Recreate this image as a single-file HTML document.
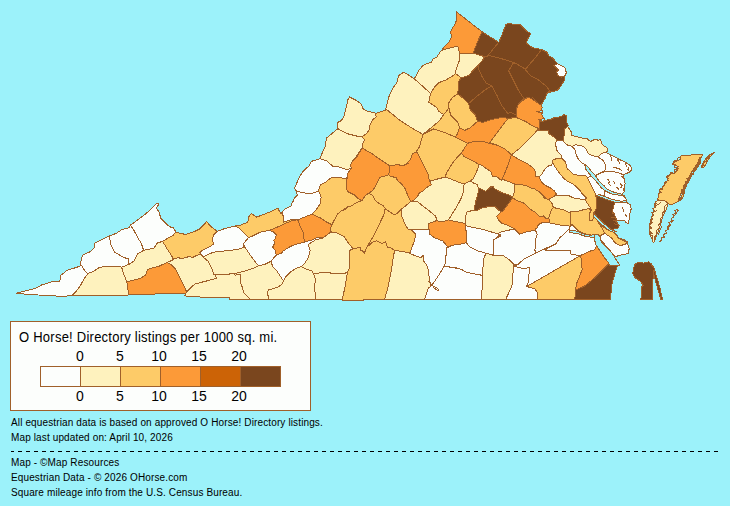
<!DOCTYPE html>
<html><head><meta charset="utf-8">
<style>
html,body{margin:0;padding:0;}
body{width:730px;height:506px;background:#9CF2FA;position:relative;overflow:hidden;font-family:"Liberation Sans",Arial,sans-serif;color:#000;}
#map{position:absolute;left:0;top:0;}
.lg{position:absolute;left:10px;top:321px;width:299px;height:88px;border:1px solid #A0602A;background:#FCFEFC;}
.t{position:absolute;white-space:nowrap;}
.title{left:8px;top:7px;font-size:14px;letter-spacing:0.25px;transform:scaleX(0.93);transform-origin:0 0;}
.num{position:absolute;font-size:14px;width:40px;text-align:center;}
.bar{position:absolute;left:29px;top:44px;height:21px;}
.seg{position:absolute;top:0;width:39px;height:19px;border:1px solid #A0602A;}
.foot{position:absolute;left:11px;font-size:10px;letter-spacing:0.13px;white-space:nowrap;}
.dash{position:absolute;left:18px;top:451px;width:700px;height:1px;background:repeating-linear-gradient(to right,#000 0 4px,transparent 4px 8px);}
.dash0{position:absolute;left:11px;top:451px;width:3px;height:1px;background:#000;}
</style></head><body>
<svg id="map" width="730" height="310" viewBox="0 0 730 310" shape-rendering="crispEdges"><g fill-rule="evenodd"><path fill="#FC9A38" d="M457.0,17.5 455.7,22.8 452.5,28.2 450.7,31.7 451.6,37.0 448.9,42.4 443.6,47.7 441.8,50.4 450.7,47.7 457.8,46.3 458.7,49.5 459.6,54.0 473.0,53.1 477.4,42.4 481.9,31.7 456.4,11.8Z"/><path fill="#7A461E" d="M477.4,42.4 473.0,53.1 484.5,56.6 487.2,56.6 488.1,55.2 488.3,55.2 493.4,48.6 498.8,42.4 481.9,31.7Z"/><path fill="#7A461E" d="M514.8,62.9 525.5,69.1 536.2,56.6 541.5,49.5 532.6,47.7 526.4,43.3 527.3,39.7 530.8,33.5 527.3,31.7 520.1,24.6 507.7,23.7 505.9,24.6 501.4,36.2 498.8,42.4 493.4,48.6 488.3,55.2 500.6,58.4Z"/><path fill="#7A461E" d="M536.2,56.6 525.5,69.1 525.5,69.8 530.8,76.0 538.0,79.6 546.9,86.7 550.4,92.1 557.5,90.3 561.1,85.8 564.7,79.6 564.7,76.2 561.1,77.1 557.5,75.3 556.7,71.8 558.4,70.0 554.0,65.6 557.5,63.8 553.1,58.4 548.6,55.8 546.9,52.2 541.5,49.5Z"/><path fill="#FCFEFC" d="M558.4,70.0 556.7,71.8 557.5,75.3 561.1,77.1 564.7,76.2 566.4,72.7 564.7,67.3 557.5,63.8 554.0,65.6Z"/><path fill="#FEF2BE" d="M459.6,60.0 456.9,67.1 455.1,73.4 457.8,75.1 461.4,77.8 469.4,75.1 471.2,72.5 478.3,65.3 482.7,60.0 484.5,56.6 473.0,53.1 459.6,54.0Z"/><path fill="#FEF2BE" d="M436.9,56.9 433.3,58.7 431.5,62.3 426.2,64.0 422.6,65.8 418.2,71.2 415.5,77.4 413.7,78.3 430.6,93.4 435.1,86.3 438.6,82.7 445.8,80.1 454.7,74.7 455.1,73.4 456.9,67.1 459.6,60.0 459.6,54.0 458.7,49.5 457.8,46.3 450.7,47.7 441.8,50.4 440.4,51.6Z"/><path fill="#FDCB68" d="M436.9,107.7 438.6,111.2 443.7,114.6 446.1,111.7 447.0,110.5 448.9,108.1 448.9,102.7 452.5,97.4 457.8,93.8 458.7,81.4 461.4,77.8 457.8,75.1 455.1,73.4 454.7,74.7 445.8,80.1 438.6,82.7 435.1,86.3 430.6,93.4 428.8,102.3Z"/><path fill="#FEF2BE" d="M396.8,82.7 392.3,89.0 388.8,97.0 385.6,109.6 386.2,110.0 386.9,109.8 399.9,120.3 412.3,128.3 423.0,134.5 423.1,134.4 423.2,134.2 428.4,130.0 433.7,125.6 439.0,121.2 443.5,114.9 443.7,114.6 438.6,111.2 436.9,107.7 428.8,102.3 430.6,93.4 413.7,78.3 403.9,72.1 398.6,75.6Z"/><path fill="#FEF2BE" d="M347.7,100.0 346.8,105.3 344.1,116.0 341.4,120.5 337.9,122.3 337.0,126.7 338.8,129.4 347.7,133.8 358.4,136.5 361.9,136.5 366.4,133.8 369.0,130.3 369.9,124.9 372.6,119.6 376.2,116.9 375.4,113.0 367.4,111.2 362.9,108.6 361.2,104.1 356.7,100.6 349.6,97.0Z"/><path fill="#FEF2BE" d="M338.2,128.4 337.0,129.4 331.6,133.8 326.3,138.3 325.4,146.3 322.7,151.6 320.1,158.8 326.3,160.6 333.4,166.8 338.8,166.8 345.9,169.5 351.2,168.7 351.4,168.5 350.5,164.9 352.3,161.4 354.7,158.9 354.8,158.8 358.4,153.4 361.9,148.1 362.8,143.6 364.6,140.1 361.9,136.5 358.4,136.5 347.7,133.8 338.8,129.4Z"/><path fill="#FCFEFC" d="M309.4,165.9 306.7,167.7 303.2,171.2 299.6,176.6 296.9,182.8 294.5,188.2 296.3,190.8 301.6,192.6 311.4,193.8 318.6,190.8 320.3,184.6 324.8,182.8 331.9,177.1 332.0,177.1 332.0,177.1 339.0,177.5 347.0,178.9 347.5,175.6 346.8,178.4 347.5,175.6 347.8,173.8 349.6,170.3 351.2,168.7 345.9,169.5 338.8,166.8 333.4,166.8 326.3,160.6 320.1,158.8 311.2,161.4Z"/><path fill="#FCFEFC" d="M297.2,195.3 294.5,197.9 293.6,200.6 291.8,203.3 291.0,206.0 285.6,208.6 282.1,212.2 283.8,218.4 283.8,222.0 292.7,219.3 297.3,219.7 297.5,219.7 297.5,219.7 298.1,219.8 303.4,217.5 312.3,214.0 315.9,210.4 320.3,203.3 321.2,197.1 318.6,190.8 311.4,193.8 301.6,192.6 296.3,190.8Z"/><path fill="#FDCB68" d="M269.0,230.4 276.2,227.7 283.3,224.2 292.2,220.6 297.3,219.7 292.7,219.3 283.8,222.0 283.8,218.4 282.1,212.2 280.7,213.7 280.6,213.5 277.9,208.2 270.8,211.7 263.7,214.4 256.6,217.1 251.2,213.5 248.6,217.1 247.7,222.4 240.5,225.1 235.2,226.0 238.8,227.7 245.9,234.9 248.6,237.5 253.0,235.8 260.1,232.2Z"/><path fill="#FC9A38" d="M297.5,219.7 298.1,220.6 297.5,219.7 292.2,220.6 283.3,224.2 276.2,227.7 269.0,230.4 272.6,231.3 276.2,234.9 275.3,238.4 273.9,240.2 274.5,243.5 272.7,247.1 275.4,250.6 276.3,255.1 280.8,253.4 283.3,250.9 290.4,246.4 297.5,243.8 304.7,242.0 304.7,241.5 304.3,241.6 303.4,232.7 299.9,225.5 298.6,221.3 298.6,221.3 298.1,219.8Z"/><path fill="#FC9A38" d="M299.9,225.5 303.4,232.7 304.3,241.6 310.5,240.7 315.9,238.0 321.2,237.1 323.3,237.6 329.7,232.8 331.8,232.8 331.9,232.7 330.0,229.9 331.8,225.5 331.9,225.4 331.9,224.7 326.6,222.0 321.2,218.4 312.3,214.0 303.4,217.5 298.1,219.8Z"/><path fill="#FDCB68" d="M346.6,181.9 346.2,184.6 346.3,185.2ZM320.3,203.3 315.9,210.4 312.3,214.0 321.2,218.4 326.6,222.0 331.9,224.7 333.7,221.1 335.5,218.4 337.3,214.0 339.3,213.0 340.7,211.2 343.3,210.1 346.2,207.7 347.5,207.4 347.8,206.8 351.4,205.9 356.7,202.3 359.8,201.3 361.5,200.2 358.5,198.8 354.9,195.2 347.8,191.6 346.0,188.1 346.3,185.2 346.2,184.6 346.6,181.9 346.9,179.2 347.0,178.9 339.0,177.5 331.9,177.1 324.8,182.8 320.3,184.6 318.6,190.8 321.2,197.1Z"/><path fill="#7A461E" d="M471.2,72.5 469.4,75.1 461.4,77.8 458.7,81.4 457.8,93.8 463.2,98.3 468.5,103.6 475.6,97.4 484.5,90.3 491.6,85.8 486.3,83.2 482.7,77.8 478.3,68.9 478.3,65.3Z"/><path fill="#7A461E" d="M478.3,65.3 478.3,68.9 482.7,77.8 486.3,83.2 491.6,85.8 497.0,95.6 502.3,106.3 507.7,113.4 511.2,112.5 516.1,115.0 516.6,110.7 517.1,107.1 516.6,108.1 517.1,107.1 517.2,106.3 519.3,103.0 520.3,102.3 523.7,98.3 518.4,90.3 513.0,79.6 508.6,70.7 513.0,63.6 514.8,62.9 500.6,58.4 488.1,55.2 487.2,56.6 484.5,56.6 482.7,60.0Z"/><path fill="#7A461E" d="M475.6,97.4 468.5,103.6 470.3,109.9 475.6,115.2 477.4,121.4 482.7,122.3 488.1,120.6 495.2,118.8 503.2,117.0 507.7,118.8 509.1,118.5 516.6,117.0 516.6,116.5 516.1,115.0 516.1,115.0 511.2,112.5 507.7,113.4 502.3,106.3 497.0,95.6 491.6,85.8 484.5,90.3Z"/><path fill="#7A461E" d="M514.8,62.9 513.0,63.6 508.6,70.7 513.0,79.6 518.4,90.3 523.7,98.3 526.5,98.0 528.0,97.1 529.3,97.7 531.3,98.7 534.6,100.9 537.2,102.6 532.6,97.4 537.2,102.6 537.8,103.0 540.7,104.9 541.1,105.2 541.1,105.2 541.5,104.5 545.1,98.3 546.9,93.8 548.6,91.2 547.5,92.8 550.4,92.1 546.9,86.7 538.0,79.6 530.8,76.0 525.5,69.8 525.5,69.1Z"/><path fill="#FC9A38" d="M523.7,99.8 526.5,98.0 523.7,98.3 520.3,102.3ZM541.1,105.2 537.8,103.0 534.6,100.9 531.3,98.7 528.0,97.1 523.7,99.8 519.3,103.0 517.2,106.3 516.6,110.7 516.1,115.0 516.8,117.2 519.2,118.8 525.5,121.4 532.6,125.9 538.8,128.6 538.4,129.0 538.9,129.1 539.5,127.0 539.6,126.7 539.5,124.8 540.0,121.5 542.0,121.1 545.4,120.4 545.1,120.5 543.8,118.5 542.2,116.1 541.6,113.0 541.4,111.9 541.6,110.7 542.2,107.4ZM516.6,117.0 516.8,117.2 516.6,116.5Z"/><path fill="#7A461E" d="M548.8,130.0 548.8,133.6 554.1,137.1 555.0,138.0 557.0,140.0 563.3,140.0 563.3,138.2 564.4,134.9 564.4,131.6 564.4,131.1 564.4,128.3 565.8,128.3 566.1,127.5 568.3,125.9 567.2,123.7 566.1,121.5 566.6,118.3 566.1,115.5 564.5,114.5 561.7,116.1 558.5,117.2 554.1,117.7 550.9,119.3 545.4,120.4 540.0,121.5 539.5,124.8 539.7,129.5 539.6,126.7 539.5,127.0 538.9,129.1 538.4,129.0 537.2,130.0 544.2,130.0Z"/><path fill="#FDCB68" d="M452.5,97.4 448.9,102.7 448.9,108.1 450.7,115.2 457.8,122.3 459.6,127.7 464.9,130.3 470.3,127.7 477.4,121.4 475.6,115.2 470.3,109.9 468.5,103.6 463.2,98.3 457.8,93.8Z"/><path fill="#FC9A38" d="M455.2,136.9 467.7,143.2 474.8,141.4 481.9,141.0 489.0,143.2 496.0,144.8 490.0,142.5 491.6,140.1 497.0,133.0 502.3,125.9 507.7,118.8 503.2,117.0 495.2,118.8 488.1,120.6 482.7,122.3 477.4,121.4 470.3,127.7 464.9,130.3 459.6,127.7 456.9,134.8Z"/><path fill="#FDCB68" d="M439.0,121.2 433.7,125.6 428.4,130.0 423.2,134.2 433.8,128.9 444.5,132.5 455.2,136.9 456.9,134.8 459.6,127.7 457.8,122.3 450.7,115.2 448.9,108.1 447.0,110.5 443.5,114.9Z"/><path fill="#FDCB68" d="M386.2,110.0 385.6,109.6 385.4,110.3ZM372.6,119.6 369.9,124.9 369.0,130.3 366.4,133.8 361.9,136.5 364.6,140.1 362.8,143.6 361.9,148.1 358.4,153.4 354.8,158.8 354.7,158.9 356.7,156.9 359.4,152.5 362.1,148.0 372.7,154.2 381.6,160.5 389.7,165.8 397.7,164.6 403.0,165.8 404.7,165.0 404.7,165.0 407.1,162.7 410.7,159.2 412.5,153.8 416.0,152.1 419.6,146.7 421.4,139.6 423.0,134.5 412.3,128.3 399.9,120.3 386.9,109.8 376.2,113.4 376.6,113.3 375.4,113.0 376.2,116.9Z"/><path fill="#FDCB68" d="M423.0,134.5 421.4,139.6 419.6,146.7 416.0,152.1 416.3,152.8 417.3,152.5 420.8,159.6 424.4,166.7 427.9,173.8 429.6,181.3 432.1,180.5 438.3,178.8 445.4,177.0 446.3,173.4 451.6,164.5 457.0,157.4 461.4,152.9 467.7,143.2 455.2,136.9 444.5,132.5 433.8,128.9 423.2,134.2 423.1,134.4Z"/><path fill="#FC9A38" d="M461.4,152.9 464.1,156.5 471.2,160.1 479.2,164.5 481.9,165.4 485.5,168.1 490.8,171.6 492.6,176.1 497.1,177.0 501.5,180.5 501.8,179.9 501.6,179.9 504.2,174.5 507.8,165.6 511.4,154.9 511.5,154.9 510.4,153.8 505.0,149.1 498.9,146.0 496.0,144.8 489.0,143.2 481.9,141.0 474.8,141.4 467.7,143.2Z"/><path fill="#FDCB68" d="M451.6,164.5 446.3,173.4 445.4,177.0 452.5,179.7 458.8,182.3 464.1,184.1 469.5,181.4 473.0,178.8 476.6,171.6 479.2,164.5 471.2,160.1 464.1,156.5 461.4,152.9 457.0,157.4Z"/><path fill="#FC9A38" d="M412.5,153.8 410.7,159.2 407.1,162.7 404.7,165.0 408.4,163.2 403.0,165.8 397.7,164.6 389.7,165.8 388.8,174.7 390.5,176.5 395.9,177.4 397.7,181.0 401.2,183.6 404.8,188.1 406.6,192.5 408.4,197.0 411.0,201.4 413.7,200.6 417.3,197.0 419.0,193.4 424.4,189.9 427.1,187.2 431.5,184.5 429.4,181.4 429.6,181.3 427.9,173.8 424.4,166.7 420.8,159.6 417.3,152.5 416.3,152.8 416.0,152.1Z"/><path fill="#FEF2BE" d="M429.6,181.3 429.4,181.4 431.5,184.5 427.1,187.2 424.4,189.9 419.0,193.4 417.3,197.0 413.7,200.6 411.0,201.4 417.3,201.4 420.6,204.2 420.6,204.2 422.6,205.9 429.7,211.2 435.1,215.7 436.8,219.2 435.7,220.9 436.0,220.8 443.2,221.6 448.5,219.9 452.9,212.7 457.4,205.6 461.0,198.5 463.6,191.4 464.1,184.1 458.8,182.3 452.5,179.7 445.4,177.0 438.3,178.8 432.1,180.5 429.6,181.3Z"/><path fill="#FEF2BE" d="M473.0,178.8 469.5,181.4 473.0,182.3 473.4,183.1 477.0,184.2 478.1,187.6 478.4,187.7 485.5,191.2 489.0,188.6 490.8,186.8 491.2,187.0 491.2,186.9 493.0,186.4 494.2,188.5 496.2,189.5 499.7,191.2 501.7,192.5 503.7,193.2 509.0,194.9 510.7,196.2 512.6,197.6 514.4,191.4 514.4,185.1 516.0,184.8 513.2,183.4 504.2,179.9 501.8,179.9 501.5,180.5 497.1,177.0 492.6,176.1 490.8,171.6 485.5,168.1 481.9,165.4 479.2,164.5 476.6,171.6Z"/><path fill="#7A461E" d="M494.2,188.5 493.0,186.4 491.2,186.9 491.2,187.0 490.8,186.8 489.0,188.6 485.5,191.2 478.4,187.7 478.1,187.6 478.7,189.4 478.8,189.6 477.0,196.7 475.2,203.8 474.3,210.1 477.0,211.0 480.5,208.3 484.1,207.4 489.5,206.5 494.8,206.5 498.4,210.1 501.0,211.8 502.8,211.0 505.5,207.4 509.0,202.9 512.6,197.6 509.0,194.9 503.7,193.2 498.4,191.4 501.7,192.5 499.7,191.2 496.2,189.5Z"/><path fill="#FEF2BE" d="M469.5,181.4 464.1,184.1 463.6,191.4 461.0,198.5 457.4,205.6 452.9,212.7 448.5,219.9 455.6,221.6 465.4,223.4 465.4,216.3 467.2,211.8 474.3,210.1 475.2,203.8 477.0,196.7 478.8,189.6 477.0,184.2 471.6,182.5 473.4,183.1 473.0,182.3Z"/><path fill="#FC9A38" d="M504.2,174.5 501.6,179.9 504.2,179.9 513.2,183.4 516.0,184.8 519.7,184.2 526.8,186.0 531.0,188.1 534.5,188.8 539.9,192.3 546.3,198.8 547.6,199.2 549.6,199.9 549.9,199.7 549.9,198.6 554.3,196.4 556.4,194.3 555.5,192.7 554.6,191.1 550.2,187.8 545.9,185.7 542.6,183.5 540.4,180.2 539.3,177.0 535.0,175.9 535.0,170.8 532.7,167.4 527.4,163.8 520.3,160.3 511.4,154.9 507.8,165.6Z"/><path fill="#FC9A38" d="M359.4,152.5 356.7,156.9 352.3,161.4 350.5,164.9 351.4,168.5 349.6,170.3 347.8,173.8 346.9,179.2 346.0,188.1 347.8,191.6 354.9,195.2 358.5,198.8 362.1,200.5 365.6,195.2 368.3,193.4 372.7,190.8 376.3,184.5 379.9,177.4 383.4,176.5 388.8,174.7 389.7,165.8 381.6,160.5 372.7,154.2 362.1,148.0Z"/><path fill="#FDCB68" d="M379.9,177.4 376.3,184.5 372.7,190.8 368.3,193.4 372.7,195.2 375.4,200.5 379.9,204.1 383.4,205.9 385.2,208.6 388.8,211.2 394.1,214.8 397.7,213.0 401.2,209.5 406.6,205.0 411.0,201.4 408.4,197.0 406.6,192.5 404.8,188.1 401.2,183.6 397.7,181.0 395.9,177.4 390.5,176.5 388.8,174.7 383.4,176.5Z"/><path fill="#FEF2BE" d="M406.6,205.0 401.2,209.5 401.2,214.8 404.8,223.7 408.4,229.9 410.6,229.2 411.3,229.9 429.1,229.9 428.9,228.8 428.9,223.4 435.7,220.9 436.8,219.2 435.1,215.7 429.7,211.2 422.6,205.9 417.3,201.4 411.0,201.4Z"/><path fill="#FDCB68" d="M383.8,215.0 378.5,225.7 373.2,236.4 366.9,247.1 373.2,241.7 376.7,240.8 382.1,243.5 385.6,241.7 387.4,247.1 391.0,247.9 394.5,250.6 403.4,251.5 409.7,253.3 411.4,248.8 414.1,241.7 415.9,234.6 410.6,229.2 408.4,229.9 404.8,223.7 401.2,214.8 401.2,209.5 397.7,213.0 394.1,214.8 388.8,211.2 385.2,208.6Z"/><path fill="#FDCB68" d="M375.4,200.5 372.7,195.2 368.3,193.4 365.6,195.2 362.0,200.6 356.7,202.3 351.4,205.9 347.8,206.8 347.5,207.4 346.2,207.7 343.3,210.1 346.9,208.6 340.7,211.2 339.3,213.0 337.3,214.0 335.5,218.4 333.7,221.1 331.9,224.7 331.9,225.4 331.8,225.5 330.0,229.9 331.9,232.7 331.8,232.8 336.8,232.8 344.0,236.4 347.5,241.7 352.9,248.8 360.9,247.1 360.9,250.3 362.5,250.6 364.2,253.3 366.9,247.1 373.2,236.4 378.5,225.7 383.8,215.0 385.2,208.6 383.4,205.9 379.9,204.1ZM361.5,200.2 359.8,201.3 362.0,200.6 362.1,200.5Z"/><path fill="#FC9A38" d="M433.2,236.9 435.2,238.0 439.6,239.5 440.3,240.0 442.6,240.8 443.9,242.3 443.9,242.3 447.9,247.1 447.9,247.3 450.4,246.1 448.5,246.6 450.4,246.1 452.1,245.3 455.2,244.9 455.6,244.8 456.0,244.8 459.2,244.4 464.4,243.1 466.3,242.6 466.3,241.2 466.3,232.8 465.4,225.7 466.0,225.8 465.4,223.4 455.6,221.6 448.5,219.9 443.2,221.6 436.0,220.8 428.9,223.4 428.9,228.8 429.8,234.1Z"/><path fill="#FEF2BE" d="M466.0,225.8 473.4,227.5 482.3,229.2 491.2,231.9 497.3,233.7 500.1,232.3 507.3,230.5 511.7,229.5 512.1,229.2 512.4,229.3 514.4,228.8 510.8,227.0 507.3,225.2 501.9,223.4 498.4,219.9 496.6,216.3 501.0,211.8 498.4,210.1 494.8,206.5 489.5,206.5 484.1,207.4 480.5,208.3 477.0,211.0 474.3,210.1 467.2,211.8 465.4,216.3 465.4,223.4Z"/><path fill="#FCFEFC" d="M466.3,232.8 466.3,242.6 469.9,247.1 477.0,250.6 483.2,252.4 485.9,253.3 493.0,255.1 493.4,248.3 493.4,239.9 494.8,239.1 500.1,234.6 491.2,231.9 482.3,229.2 473.4,227.5 465.4,225.7Z"/><path fill="#FCFEFC" d="M515.7,230.1 514.4,228.8 512.4,229.3ZM526.3,231.9 525.1,232.3 519.7,234.1 515.7,230.1 512.1,229.2 511.7,229.5 507.3,230.5 500.1,232.3 497.3,233.7 500.1,234.6 494.8,239.1 501.4,235.5 493.4,239.9 493.4,248.3 493.0,255.1 497.8,255.1 498.4,255.1 503.7,256.0 509.0,259.5 513.5,264.0 513.5,264.6 513.8,264.9 517.4,264.9 524.5,258.6 535.2,253.3 535.2,250.0 534.8,250.0 535.2,248.1 535.2,241.7 535.6,240.9 535.4,239.3 537.2,234.6 535.4,229.8 534.0,230.5 532.6,230.5 532.3,230.7 528.5,231.6 527.4,231.9Z"/><path fill="#FCFEFC" d="M435.5,238.2 440.3,240.0 439.6,239.5 435.2,238.0ZM415.9,234.6 414.1,241.7 411.4,248.8 409.7,253.3 415.9,256.0 421.2,257.7 423.0,255.1 423.9,261.3 426.6,264.9 428.4,270.2 429.2,277.3 430.1,282.7 431.0,286.2 433.7,282.7 437.3,277.3 440.8,272.0 444.4,265.8 445.1,263.6 445.8,257.7 446.7,247.9 447.9,247.3 447.9,247.1 442.6,240.8 435.5,238.2 433.2,236.9 429.8,234.1 429.1,229.9 411.3,229.9Z"/><path fill="#FCFEFC" d="M444.4,265.8 446.5,266.3 451.5,267.5 458.1,268.3 455.6,267.5 458.1,268.3 458.6,268.4 459.2,268.7 461.0,269.3 466.3,272.0 473.4,273.8 474.1,273.9 480.9,274.7 480.9,275.2 482.3,275.5 483.2,264.9 484.1,257.7 485.9,253.3 483.2,252.4 477.0,250.6 469.9,247.1 466.3,242.6 459.2,244.4 452.1,245.3 446.7,247.9 445.8,257.7 445.1,263.6Z"/><path fill="#FDCB68" d="M497.0,133.0 491.6,140.1 490.0,142.5 498.9,146.0 505.0,149.1 510.4,153.8 511.5,154.9 511.9,154.5 520.3,147.8 527.4,140.7 534.5,133.6 537.2,130.0 538.8,128.6 532.6,125.9 525.5,121.4 519.2,118.8 516.6,117.0 507.7,118.8 502.3,125.9Z"/><path fill="#FCFEFC" d="M605.5,152.4 603.8,152.9 601.6,153.5 599.5,155.7 597.3,156.8 599.5,157.9 602.7,160.1 604.9,163.4 605.6,166.8 606.0,168.8 603.8,171.0 602.1,171.6 601.3,172.6 606.7,171.5 612.2,171.5 617.6,172.6 620.9,173.7 623.0,174.8 628.5,172.6 630.7,171.5 631.7,168.3 629.6,165.0 626.3,162.8 622.0,160.7 617.6,158.5 613.3,156.3 608.9,154.1 606.7,153.0 607.1,151.3Z"/><path fill="#FDCB68" d="M550.8,211.0 549.6,215.9 548.4,218.3 550.0,219.9 548.6,222.7 550.8,223.3 552.2,223.6 554.8,223.9 563.7,225.7 569.0,225.7 569.5,228.2 571.1,225.0 572.5,225.0 572.2,224.7 570.0,224.7 570.0,212.6 566.8,211.6 563.2,209.7 557.0,208.5 553.3,207.3Z"/><path fill="#FDCB68" d="M680.6,159.3 677.5,160.8 674.4,160.3 672.3,164.4 675.4,165.0 677.5,166.5 676.4,168.6 678.0,170.1 675.4,171.6 674.4,173.7 672.3,173.2 670.3,174.7 667.2,175.7 666.2,177.8 668.2,178.8 667.2,180.9 665.1,184.0 664.1,186.0 662.0,188.1 660.0,189.1 658.8,194.4 657.6,199.2 659.7,200.2 665.0,200.8 668.1,203.4 671.2,205.0 674.4,203.4 678.6,201.3 682.8,198.1 683.8,195.0 684.6,190.0 686.2,185.0 688.8,180.9 690.8,177.3 692.9,173.7 695.5,170.1 698.0,167.0 700.1,163.4 700.6,160.3 701.1,157.2 702.6,154.7 702.1,154.2 681.1,155.7Z"/><path fill="#FDCB68" d="M701.6,165.5 702.1,167.5 704.2,167.0 706.2,163.4 708.3,159.3 711.4,155.2 714.5,152.1 710.3,154.2 706.2,158.3 703.2,162.4Z"/><path fill="#FEF2BE" d="M655.0,203.4 654.5,206.5 653.4,210.7 652.9,213.9 651.9,217.0 650.3,221.2 649.8,225.4 649.2,229.6 649.8,233.8 650.8,236.9 652.4,240.1 653.4,242.7 654.5,241.1 656.1,236.9 657.6,232.7 659.2,228.5 660.8,224.3 661.8,220.1 662.9,216.0 665.0,211.8 666.5,208.6 667.6,205.5 668.1,203.4 665.0,200.8 659.7,200.2 655.5,201.3Z"/><path fill="#FCFEFC" d="M519.3,267.7 521.3,268.0 526.9,268.0 529.9,267.5 529.0,273.8 528.1,282.7 527.0,285.4 526.7,286.5 580.7,255.4 571.1,254.6 570.6,250.0 544.7,250.0 550.8,246.7 555.8,244.2 556.1,243.6 535.6,253.1 535.4,253.2 535.2,253.3 535.2,253.3 524.5,258.6 517.4,264.9 513.8,265.8Z"/><path fill="#FEF2BE" d="M513.5,264.6 513.5,264.0 509.0,259.5 503.7,256.0 498.4,255.1 493.0,255.1 485.9,253.3 484.1,257.7 483.2,264.9 482.3,275.5 482.3,286.2 481.4,299.1 505.5,299.1 505.8,299.1 508.5,293.4 508.7,292.9 511.3,287.8 512.2,284.2 512.9,273.8 513.5,268.5 513.8,265.8 517.4,264.9 513.8,264.9Z"/><path fill="#FCFEFC" d="M526.9,268.0 521.3,268.0 519.3,267.7 513.8,265.8 512.9,273.8 512.2,284.2 511.3,287.8 508.5,293.4 505.8,299.1 537.8,299.1 537.0,291.7 535.3,289.4 534.8,288.7 526.7,286.5 527.0,285.4 528.1,282.7 529.0,273.8 529.9,267.5 524.5,268.4Z"/><path fill="#FDCB68" d="M534.8,288.7 537.0,291.7 537.8,299.4 574.8,299.4 575.6,290.2 576.3,284.3 579.3,276.9 582.2,269.4 580.7,255.4 526.7,286.5Z"/><path fill="#FC9A38" d="M582.2,269.4 579.3,276.9 576.3,284.3 575.6,290.2 585.2,285.7 594.1,278.3 603.0,269.4 610.4,262.0 608.9,259.1 603.0,253.1 600.0,248.7 597.0,244.3 595.6,248.7 594.1,249.4 594.0,250.0 592.7,250.0 580.7,255.4Z"/><path fill="#7A461E" d="M574.8,299.4 610.4,299.4 611.9,284.3 614.8,273.9 617.8,265.0 614.8,265.0 610.4,262.0 603.0,269.4 594.1,278.3 585.2,285.7 575.6,290.2Z"/><path fill="#7A461E" d="M632.7,273.8 635.4,278.2 639.9,280.9 643.4,285.3 641.6,287.1 641.6,293.4 640.8,299.6 652.3,299.6 652.3,286.2 653.2,277.3 653.2,270.2 654.1,275.5 655.9,282.7 658.6,291.6 660.9,299.6 662.7,299.6 661.2,293.4 659.5,286.2 656.8,277.3 654.1,268.4 652.3,264.9 652.7,267.1 651.4,264.0 648.8,261.7 643.4,263.1 638.1,262.2 634.5,264.9 633.6,268.4Z"/><path fill="#FCFEFC" d="M30.0,294.5 53.5,295.9 63.4,296.3 72.3,295.5 77.2,290.0 80.7,285.0 84.2,278.7 87.8,273.6 84.1,270.2 82.0,265.9 81.6,265.3 81.6,265.2 77.2,267.2 67.3,270.2 61.0,275.1 59.8,281.0 52.5,281.5 41.6,285.0 35.7,288.4 15.9,293.3Z"/><path fill="#FCFEFC" d="M98.5,268.0 105.6,266.2 116.3,266.2 121.6,267.1 128.8,264.5 128.8,259.1 123.4,257.3 114.5,252.0 111.0,244.9 109.2,236.0 102.1,239.5 94.9,243.1 94.0,248.4 89.6,252.0 83.4,254.7 81.6,257.3 80.7,263.6 80.4,265.7 81.6,265.2 81.6,265.3 84.2,269.8 82.0,265.9 84.1,270.2 87.8,273.6 93.2,271.6Z"/><path fill="#FCFEFC" d="M111.0,244.9 114.5,252.0 123.4,257.3 128.8,259.1 128.8,264.5 134.1,260.9 137.7,253.8 143.9,250.2 143.0,248.4 141.2,243.1 137.7,237.7 134.1,230.6 130.5,225.3 128.8,227.9 121.6,229.7 116.3,233.3 109.2,236.0Z"/><path fill="#FCFEFC" d="M137.7,237.7 141.2,243.1 143.0,248.4 143.9,250.2 148.4,249.3 153.7,248.4 157.3,243.1 162.6,241.3 168.8,237.7 173.3,235.1 174.2,233.3 176.8,232.4 176.2,232.2 175.1,230.6 173.3,227.9 170.6,227.1 167.9,225.3 164.4,221.7 160.8,218.2 159.0,211.9 156.4,208.4 159.0,203.9 157.3,203.0 151.9,208.4 144.8,214.6 137.7,219.9 130.5,225.3 134.1,230.6Z"/><path fill="#FEF2BE" d="M147.4,269.5 152.7,267.7 157.1,266.7 164.0,263.9 167.0,262.4 168.8,261.7 173.3,259.1 171.5,255.5 167.9,250.2 162.6,241.3 157.3,243.1 153.7,248.4 148.4,249.3 143.9,250.2 137.7,253.8 134.1,260.9 128.8,264.5 121.6,267.1 123.4,273.1 126.9,282.0 133.2,280.2 140.3,278.4 145.6,274.9 147.4,269.6Z"/><path fill="#FEF2BE" d="M80.7,285.0 77.2,290.0 72.3,295.5 128.7,295.0 126.9,282.0 123.4,273.1 121.6,267.1 116.3,266.2 105.6,266.2 98.5,268.0 93.2,271.6 87.8,273.6 84.2,278.7ZM128.7,294.8 128.7,294.8 126.9,282.0Z"/><path fill="#FC9A38" d="M164.0,263.9 157.1,266.7 159.9,266.0ZM163.4,293.6 183.0,293.6 185.8,293.6 186.6,291.8 183.0,283.8 179.5,276.6 175.9,269.5 170.5,264.2 167.0,262.4 159.9,266.0 152.7,267.7 147.4,269.5 145.6,274.9 140.3,278.4 133.2,280.2 126.9,282.0 128.7,294.8 145.6,294.5Z"/><path fill="#FEF2BE" d="M198.7,254.6 198.1,254.9 197.8,255.3 196.5,255.5 196.4,255.5 194.1,256.7 192.9,257.3 189.0,256.6 183.6,258.0 179.1,258.0 179.1,257.4 173.3,259.1 168.8,261.7 174.1,259.7 167.0,262.4 170.5,264.2 175.9,269.5 179.5,276.6 183.0,283.8 186.6,291.8 191.9,286.4 195.5,283.8 202.6,282.0 209.7,280.2 216.8,278.4 215.1,274.9 213.8,274.9 212.2,269.1 211.5,267.7 208.3,261.5 203.2,257.1 202.7,256.5 202.7,256.5 200.6,253.9Z"/><path fill="#FDCB68" d="M183.6,258.0 189.0,256.6 192.9,257.3 196.4,255.5 196.5,255.5 197.8,255.3 198.1,254.9 200.6,253.9 199.6,252.7 201.4,250.9 210.3,246.4 213.8,243.8 212.1,240.2 213.8,234.9 217.4,231.3 210.3,226.0 206.7,221.5 199.9,228.8 196.4,230.6 194.6,231.5 194.2,231.7 187.1,234.0 183.5,234.0 180.4,233.3 176.8,232.4 174.2,233.3 173.3,235.1 168.8,237.7 162.6,241.3 167.9,250.2 171.5,255.5 173.3,259.1 179.1,257.4 179.1,258.0Z"/><path fill="#FCFEFC" d="M213.8,234.9 212.1,240.2 213.8,243.8 210.3,246.4 201.4,250.9 199.6,252.7 203.2,257.1 206.7,255.3 212.1,252.7 219.2,251.2 226.3,250.9 233.4,250.0 238.8,249.1 244.1,247.3 243.2,243.8 244.2,243.0 244.1,242.9 244.2,242.8 244.2,242.6 244.4,242.5 248.6,237.5 245.9,234.9 238.8,227.7 235.2,226.0 224.5,228.6 217.4,231.3Z"/><path fill="#FEF2BE" d="M213.8,274.9 229.1,274.9 229.1,273.8 233.1,273.8 233.6,273.8 240.7,272.0 247.8,270.2 253.2,268.4 258.0,266.1 258.3,265.9 257.7,264.8 254.9,261.3 249.6,254.2 246.0,248.8 245.4,247.6 244.1,247.3 238.8,249.1 233.4,250.0 226.3,250.9 219.2,251.2 212.1,252.7 206.7,255.3 203.2,257.1 208.3,261.5 211.5,267.7 212.2,269.1 212.1,268.7Z"/><path fill="#FCFEFC" d="M244.1,247.3 245.4,247.6 244.2,245.3 246.0,248.8 249.6,254.2 254.9,261.3 257.7,264.8 258.3,265.9 258.5,265.8 265.6,264.0 270.6,261.5 276.3,255.1 275.4,250.6 272.7,247.1 274.5,243.5 273.9,240.2 275.3,238.4 276.2,234.9 272.6,231.3 269.0,230.4 260.1,232.2 253.0,235.8 248.6,237.5 244.4,242.5 244.2,242.6 244.2,242.8 244.1,242.9 244.2,243.0 243.2,243.8Z"/><path fill="#FCFEFC" d="M315.5,239.9 322.6,238.2 323.3,237.6 321.2,237.1 315.9,238.0 310.5,240.7 304.7,241.5 304.7,242.0 297.5,243.8 290.4,246.4 283.3,250.9 280.8,253.4 283.4,252.4 276.3,255.1 270.6,261.5 271.0,261.3 272.7,266.6 276.3,270.2 279.9,275.5 283.4,280.9 285.2,277.3 290.5,272.0 295.9,268.4 301.2,266.6 304.8,263.1 308.4,257.7 310.1,250.6 308.4,244.4Z"/><path fill="#FEF2BE" d="M235.0,275.2 236.4,274.9 240.9,274.0 240.9,283.3 242.5,288.0 244.2,293.4 247.8,296.9 250.5,299.6 269.2,299.6 267.4,293.4 268.3,289.8 272.7,288.9 278.1,287.1 281.6,284.5 283.4,280.9 279.9,275.5 276.3,270.2 272.7,266.6 271.0,261.3 265.6,264.0 258.5,265.8 253.2,268.4 247.8,270.2 240.7,272.0 233.6,273.8Z"/><path fill="#FEF2BE" d="M215.1,274.9 216.8,278.4 209.7,280.2 202.6,282.0 195.5,283.8 191.9,286.4 186.6,291.8 184.8,295.9 209.7,297.7 229.1,297.7 229.1,299.6 250.5,299.6 247.8,296.9 244.2,293.4 242.5,288.0 240.9,283.3 240.9,274.0 236.4,274.9 235.0,275.2 233.6,273.8 229.1,273.8 229.1,274.9Z"/><path fill="#FEF2BE" d="M281.6,284.5 278.1,287.1 272.7,288.9 268.3,289.8 267.4,293.4 269.2,299.6 315.5,299.6 314.6,286.2 315.5,279.1 313.7,273.8 311.9,271.1 306.6,269.3 301.2,266.6 295.9,268.4 290.5,272.0 285.2,277.3 283.4,280.9Z"/><path fill="#FEF2BE" d="M310.1,250.6 308.4,257.7 304.8,263.1 301.2,266.6 306.6,269.3 311.9,271.1 313.7,273.8 315.5,273.8 322.6,272.0 329.7,272.9 336.8,273.8 344.0,273.8 347.5,272.0 349.1,268.8 349.1,250.6 352.8,249.1 352.9,248.8 347.5,241.7 344.0,236.4 336.8,232.8 329.7,232.8 322.6,238.2 315.5,239.9 308.4,244.4Z"/><path fill="#FEF2BE" d="M315.5,279.1 314.6,286.2 315.5,299.6 342.2,299.6 344.0,291.6 345.8,282.7 347.5,272.0 344.0,273.8 336.8,273.8 329.7,272.9 322.6,272.0 315.5,273.8 313.7,273.8Z"/><path fill="#FEF2BE" d="M391.0,272.0 388.3,286.2 384.7,299.1 424.8,299.1 426.6,293.4 428.4,288.0 431.0,286.2 430.1,282.7 429.2,277.3 428.4,270.2 426.6,264.9 423.9,261.3 423.0,255.1 421.2,257.7 415.9,256.0 409.7,253.3 403.4,251.5 394.5,250.6 392.7,261.3Z"/><path fill="#FCFEFC" d="M474.1,273.9 473.4,273.8 466.3,272.0 461.0,269.3 459.2,268.7 465.8,272.0 458.6,268.4 451.5,267.5 444.4,265.8 440.8,272.0 437.3,277.3 433.7,282.7 431.0,286.2 428.4,288.0 426.6,293.4 424.8,299.1 480.9,299.1 481.4,299.1 482.3,286.2 482.3,275.5 480.9,275.2 480.9,274.7 472.9,273.8Z"/><path fill="#FDCB68" d="M345.8,282.7 344.0,291.6 342.2,299.6 342.3,299.6 342.2,300.1 349.1,300.1 360.9,300.1 363.4,300.1 363.4,299.1 384.7,299.1 388.3,286.2 391.0,272.0 392.7,261.3 394.5,250.6 391.0,247.9 387.4,247.1 385.6,241.7 382.1,243.5 376.7,240.8 373.2,241.7 366.9,247.1 364.2,253.3 362.5,250.6 360.9,250.3 360.9,247.1 352.9,248.8 352.8,249.1 349.1,250.6 349.1,268.8 347.5,272.0Z"/><path fill="#FDCB68" d="M531.0,188.1 526.8,186.0 519.7,184.2 514.4,185.1 514.4,191.4 512.6,197.6 516.2,200.3 520.0,201.7 523.3,202.9 523.6,203.2 524.9,203.6 525.3,204.5 526.8,205.6 530.4,209.2 535.8,212.7 539.3,216.3 541.8,216.3 543.4,215.9 545.3,217.8 545.6,218.1 548.2,218.1 548.4,218.3 549.6,215.9 550.8,211.0 553.3,207.3 552.1,203.6 551.3,202.4 549.9,201.0 549.9,200.3 549.6,199.9 543.1,197.7 546.3,198.8 539.9,192.3 534.5,188.8Z"/><path fill="#FC9A38" d="M498.4,219.9 501.9,223.4 507.3,225.2 510.8,227.0 514.4,228.8 519.7,234.1 525.1,232.3 526.3,231.9 527.4,231.9 532.3,230.7 532.6,230.5 534.0,230.5 535.4,229.8 535.2,229.2 537.5,227.7 537.3,227.0 538.5,224.5 542.2,222.7 546.5,222.1 548.6,222.7 550.0,219.9 548.2,218.1 545.6,218.1 543.4,215.9 541.8,216.3 539.3,216.3 535.8,212.7 530.4,209.2 526.8,205.6 525.3,204.5 524.9,203.6 523.6,203.2 523.3,202.9 516.2,200.3 512.6,197.6 509.0,202.9 505.5,207.4 502.8,211.0 501.0,211.8 496.6,216.3Z"/><path fill="#FCFEFC" d="M537.2,234.6 535.4,239.3 535.6,240.9 535.2,241.7 535.2,248.1 534.8,250.0 535.2,250.0 535.2,253.3 535.4,253.2 535.6,253.1 556.1,243.6 556.6,242.6 556.6,242.6 557.0,241.8 558.3,240.1 559.3,238.3 560.1,237.6 560.7,236.8 563.0,235.1 564.4,233.9 568.9,229.4 569.5,228.2 569.0,225.7 563.7,225.7 554.8,223.9 552.2,223.6 550.8,223.3 546.5,222.1 542.2,222.7 538.5,224.5 537.3,227.0 537.5,227.7 535.2,229.2Z"/><path fill="#FCFEFC" d="M559.3,238.3 558.3,240.1 557.0,241.8 555.8,244.2 550.8,246.7 544.7,250.0 570.6,250.0 571.1,254.6 580.7,255.4 592.7,250.0 594.0,250.0 594.1,249.4 595.6,248.7 597.0,244.3 595.2,241.7 595.6,242.8 595.2,241.6 595.2,236.8 594.1,234.6 591.9,235.7 589.7,234.6 589.4,234.4 589.0,234.4 586.6,234.4 581.7,232.5 579.9,231.3 578.8,231.3 576.6,229.1 574.4,226.9 572.5,225.0 571.1,225.0 568.9,229.4 564.4,233.9 563.0,235.1 560.7,236.8 560.1,237.6Z"/><path fill="#FEF2BE" d="M565.8,128.3 564.4,128.3 564.4,131.6 564.4,134.9 563.3,138.2 563.3,140.0 563.9,142.0 565.5,143.6 568.5,145.6 572.2,146.3 575.3,144.7 578.6,145.3 581.9,145.8 585.2,148.0 586.8,150.2 587.9,152.9 589.6,154.6 592.9,155.7 595.1,156.2 597.3,156.8 599.5,155.7 601.6,153.5 603.8,152.9 605.5,152.4 607.1,151.3 607.7,148.6 606.0,146.9 603.8,145.8 601.6,143.6 600.5,139.2 598.4,140.3 595.1,139.2 592.9,140.3 590.7,141.4 588.5,140.3 587.4,138.7 583.0,138.2 578.6,137.1 574.2,136.0 571.0,134.9 571.0,131.6 568.8,128.3 567.6,126.4 566.1,127.5Z"/><path fill="#FEF2BE" d="M554.3,196.4 549.9,198.6 549.9,199.7 549.6,199.9 549.9,200.3 549.9,201.0 551.3,202.4 552.1,203.6 553.3,207.3 557.0,208.5 563.2,209.7 566.8,211.6 570.0,212.6 570.0,211.6 576.6,211.6 581.0,210.5 584.2,209.4 585.3,209.4 589.0,208.5 589.9,209.8 591.4,210.3 591.8,209.9 589.6,206.6 585.2,200.1 582.5,199.6 579.7,199.0 573.2,197.9 571.6,197.1 568.8,195.7 567.4,195.0 556.7,195.0 556.4,194.3Z"/><path fill="#FCFEFC" d="M597.0,179.1 600.2,183.5 604.6,185.7 604.6,187.8 604.6,188.5 606.3,189.6 607.8,190.6 608.4,190.8 612.6,191.8 617.0,193.5 617.2,193.6 621.4,195.1 621.3,195.0 622.0,194.3 624.1,192.2 624.1,187.8 625.2,183.5 624.1,179.1 623.0,174.8 620.9,173.7 617.6,172.6 612.2,171.5 606.7,171.5 601.3,172.6 599.1,173.7 594.8,175.9Z"/><path fill="#7A461E" d="M619.3,225.8 617.1,222.5 615.4,220.0 617.0,220.0 614.8,215.4 612.6,211.0 613.7,206.6 614.8,202.3 612.6,201.7 608.2,200.1 603.8,198.4 599.5,196.8 596.2,196.8 596.2,203.4 596.2,208.8 594.0,213.2 593.9,213.6 594.1,213.8 593.8,214.1 593.8,214.5 594.0,214.7 596.4,218.4 598.5,222.5 601.8,225.8 606.2,229.1 610.5,231.3 613.8,232.4 611.2,229.8 613.8,229.1 618.2,228.0Z"/><path fill="#FCFEFC" d="M612.6,211.0 614.8,215.4 617.0,220.0 624.6,220.0 625.9,222.5 628.1,223.6 629.2,219.2 629.7,213.8 629.7,213.8 630.1,213.2 631.2,208.8 630.1,204.5 626.3,202.3 621.4,202.8 614.8,202.3 613.7,206.6Z"/><path fill="#FDCB68" d="M604.7,233.6 605.1,233.5 608.4,235.7 611.6,237.9 613.8,241.2 616.0,243.4 620.4,245.5 624.8,244.5 627.0,242.3 624.8,240.1 621.5,239.0 618.2,237.9 616.0,234.6 613.8,232.4 610.5,231.3 606.2,229.1 601.8,225.8 598.5,222.5 598.9,223.3 601.4,227.0 603.8,231.9 604.1,232.5Z"/><path fill="#FDCB68" d="M593.9,213.6 593.8,214.1 594.1,213.8ZM576.6,229.1 578.8,231.3 579.9,231.3 581.7,232.5 586.6,234.4 589.0,234.4 589.4,234.4 589.7,234.6 591.9,235.7 594.1,234.6 597.2,234.6 601.2,235.5 601.8,234.6 604.7,233.6 603.8,231.9 601.4,227.0 598.9,223.3 596.4,218.4 594.0,214.7 593.8,214.5 592.9,220.0 589.6,220.0 589.6,213.2 591.5,210.4 589.9,209.8 589.0,208.5 585.3,209.4 584.2,209.4 581.0,210.5 576.6,211.6 570.0,211.6 570.0,224.7 572.2,224.7 574.4,226.9Z"/><path fill="#FCFEFC" d="M624.8,244.5 620.4,245.5 616.0,243.4 613.8,241.2 611.6,237.9 608.4,235.7 605.1,233.5 601.8,234.6 599.6,237.9 601.2,235.5 597.2,234.6 595.2,234.6 601.8,241.2 604.0,243.4 607.3,247.7 610.5,251.0 612.7,254.3 616.0,256.5 619.3,255.4 624.8,254.3 628.1,253.2 629.2,248.8 628.1,245.5 627.0,242.4 627.0,242.3Z"/><path fill="#FEF2BE" d="M527.4,140.7 520.3,147.8 511.4,154.9 520.3,160.3 527.4,163.8 532.7,167.4 535.0,170.8 535.0,175.9 539.3,177.0 541.5,174.8 544.8,169.3 547.8,166.3 548.0,166.1 551.3,165.5 552.4,163.6 552.9,162.8 552.9,162.7 552.9,160.1 556.7,158.5 561.5,158.5 562.2,158.5 561.9,157.4 561.1,155.2 557.8,152.0 556.2,148.7 556.0,146.1 555.9,145.9 555.7,143.3 556.7,140.0 557.0,140.0 554.1,137.1 548.8,133.6 548.8,130.0 537.2,130.0 534.5,133.6Z"/><path fill="#FCFEFC" d="M565.5,143.6 563.9,142.0 563.3,140.0 556.7,140.0 555.7,143.3 556.2,148.7 557.8,152.0 561.1,155.2 562.2,158.5 563.3,159.6 565.4,161.7 566.2,165.0 566.5,166.1 567.6,169.3 570.9,171.5 572.4,173.9 578.0,175.3 578.5,175.3 585.0,175.3 585.9,176.0 586.3,176.0 586.6,176.5 587.2,177.0 589.3,177.0 591.5,175.9 595.9,179.1 598.0,181.2 597.3,180.3 594.0,177.1 590.7,173.8 587.4,169.4 585.2,165.0 584.4,165.0 583.9,163.9 581.7,162.8 578.5,159.6 576.3,155.2 575.3,150.2 572.1,146.4 572.2,146.3 568.5,145.6ZM612.6,191.8 608.2,190.8 604.6,188.5 604.6,195.0 595.9,195.0 595.9,195.0 595.3,195.0 596.2,196.8 599.5,196.8 603.8,198.4 608.2,200.1 612.6,201.7 614.8,202.3 621.4,202.8 626.3,202.3 626.9,202.6 626.3,200.1 625.8,197.9 621.4,195.1 617.0,193.5Z"/><path fill="#FCFEFC" d="M592.9,155.7 589.6,154.6 587.9,152.9 586.8,150.2 585.2,148.0 581.9,145.8 578.6,145.3 575.3,144.7 572.1,146.4 575.3,150.2 576.3,155.2 578.5,159.6 581.7,162.8 583.9,163.9 584.4,165.0 585.2,165.0 587.4,169.4 590.7,173.8 594.0,177.1 597.3,180.3 598.0,181.2 600.2,183.5 597.0,179.1 594.8,175.9 599.1,173.7 601.3,172.6 602.1,171.6 603.8,171.0 606.0,168.8 604.9,163.4 602.7,160.1 599.5,157.9 597.3,156.8 595.1,156.2Z"/><path fill="#FDCB68" d="M554.6,166.1 556.7,169.3 560.0,173.7 563.3,178.0 567.6,181.3 572.0,183.5 576.3,186.7 580.7,191.1 582.1,193.7 586.3,197.9 585.2,200.1 589.6,206.6 591.8,209.9 589.6,213.2 589.6,220.0 592.9,220.0 594.0,213.2 596.2,208.8 596.2,196.8 595.3,195.0 595.9,195.0 593.7,190.0 591.5,185.7 589.3,181.3 587.2,177.0 586.6,176.5 586.3,176.0 585.9,176.0 585.0,175.3 578.5,175.3 578.0,175.3 572.4,173.9 570.9,171.5 567.6,169.3 566.5,166.1 565.4,161.7 563.3,159.6 562.2,158.5 556.7,158.5 552.9,160.1 552.9,162.8Z"/><path fill="#FCFEFC" d="M542.6,183.5 545.9,185.7 550.2,187.8 554.6,191.1 556.7,195.0 567.4,195.0 568.8,195.7 573.2,197.9 579.7,199.0 585.2,200.1 586.3,197.9 582.1,193.7 580.7,191.1 576.3,186.7 572.0,183.5 567.6,181.3 563.3,178.0 560.0,173.7 556.7,169.3 554.6,166.1 552.9,162.8 551.3,165.5 548.0,166.1 544.8,169.3 541.5,174.8 539.3,177.0 540.4,180.2Z"/><path fill="#FCFEFC" d="M587.2,177.0 589.3,181.3 591.5,185.7 593.7,190.0 595.9,195.0 604.6,195.0 604.6,185.7 600.2,183.5 595.9,179.1 591.5,175.9 589.3,177.0Z"/></g><g fill="none" stroke="#A0602A" stroke-width="1"><path d="M457.0,17.5 455.7,22.8 452.5,28.2 450.7,31.7 451.6,37.0 448.9,42.4 443.6,47.7 441.8,50.4 450.7,47.7 457.8,46.3 458.7,49.5 459.6,54.0 473.0,53.1 477.4,42.4 481.9,31.7 456.4,11.8Z"/><path d="M477.4,42.4 473.0,53.1 484.5,56.6 487.2,56.6 488.1,55.2 488.3,55.2 493.4,48.6 498.8,42.4 481.9,31.7Z"/><path d="M514.8,62.9 525.5,69.1 536.2,56.6 541.5,49.5 532.6,47.7 526.4,43.3 527.3,39.7 530.8,33.5 527.3,31.7 520.1,24.6 507.7,23.7 505.9,24.6 501.4,36.2 498.8,42.4 493.4,48.6 488.3,55.2 500.6,58.4Z"/><path d="M536.2,56.6 525.5,69.1 525.5,69.8 530.8,76.0 538.0,79.6 546.9,86.7 550.4,92.1 557.5,90.3 561.1,85.8 564.7,79.6 564.7,76.2 561.1,77.1 557.5,75.3 556.7,71.8 558.4,70.0 554.0,65.6 557.5,63.8 553.1,58.4 548.6,55.8 546.9,52.2 541.5,49.5Z"/><path d="M558.4,70.0 556.7,71.8 557.5,75.3 561.1,77.1 564.7,76.2 566.4,72.7 564.7,67.3 557.5,63.8 554.0,65.6Z"/><path d="M459.6,60.0 456.9,67.1 455.1,73.4 457.8,75.1 461.4,77.8 469.4,75.1 471.2,72.5 478.3,65.3 482.7,60.0 484.5,56.6 473.0,53.1 459.6,54.0Z"/><path d="M436.9,56.9 433.3,58.7 431.5,62.3 426.2,64.0 422.6,65.8 418.2,71.2 415.5,77.4 413.7,78.3 430.6,93.4 435.1,86.3 438.6,82.7 445.8,80.1 454.7,74.7 455.1,73.4 456.9,67.1 459.6,60.0 459.6,54.0 458.7,49.5 457.8,46.3 450.7,47.7 441.8,50.4 440.4,51.6Z"/><path d="M436.9,107.7 438.6,111.2 443.7,114.6 446.1,111.7 447.0,110.5 448.9,108.1 448.9,102.7 452.5,97.4 457.8,93.8 458.7,81.4 461.4,77.8 457.8,75.1 455.1,73.4 454.7,74.7 445.8,80.1 438.6,82.7 435.1,86.3 430.6,93.4 428.8,102.3Z"/><path d="M396.8,82.7 392.3,89.0 388.8,97.0 385.6,109.6 386.2,110.0 386.9,109.8 399.9,120.3 412.3,128.3 423.0,134.5 423.1,134.4 423.2,134.2 428.4,130.0 433.7,125.6 439.0,121.2 443.5,114.9 443.7,114.6 438.6,111.2 436.9,107.7 428.8,102.3 430.6,93.4 413.7,78.3 403.9,72.1 398.6,75.6Z"/><path d="M347.7,100.0 346.8,105.3 344.1,116.0 341.4,120.5 337.9,122.3 337.0,126.7 338.8,129.4 347.7,133.8 358.4,136.5 361.9,136.5 366.4,133.8 369.0,130.3 369.9,124.9 372.6,119.6 376.2,116.9 375.4,113.0 367.4,111.2 362.9,108.6 361.2,104.1 356.7,100.6 349.6,97.0Z"/><path d="M338.2,128.4 337.0,129.4 331.6,133.8 326.3,138.3 325.4,146.3 322.7,151.6 320.1,158.8 326.3,160.6 333.4,166.8 338.8,166.8 345.9,169.5 351.2,168.7 351.4,168.5 350.5,164.9 352.3,161.4 354.7,158.9 354.8,158.8 358.4,153.4 361.9,148.1 362.8,143.6 364.6,140.1 361.9,136.5 358.4,136.5 347.7,133.8 338.8,129.4Z"/><path d="M309.4,165.9 306.7,167.7 303.2,171.2 299.6,176.6 296.9,182.8 294.5,188.2 296.3,190.8 301.6,192.6 311.4,193.8 318.6,190.8 320.3,184.6 324.8,182.8 331.9,177.1 332.0,177.1 332.0,177.1 339.0,177.5 347.0,178.9 347.5,175.6 346.8,178.4 347.5,175.6 347.8,173.8 349.6,170.3 351.2,168.7 345.9,169.5 338.8,166.8 333.4,166.8 326.3,160.6 320.1,158.8 311.2,161.4Z"/><path d="M297.2,195.3 294.5,197.9 293.6,200.6 291.8,203.3 291.0,206.0 285.6,208.6 282.1,212.2 283.8,218.4 283.8,222.0 292.7,219.3 297.3,219.7 297.5,219.7 297.5,219.7 298.1,219.8 303.4,217.5 312.3,214.0 315.9,210.4 320.3,203.3 321.2,197.1 318.6,190.8 311.4,193.8 301.6,192.6 296.3,190.8Z"/><path d="M269.0,230.4 276.2,227.7 283.3,224.2 292.2,220.6 297.3,219.7 292.7,219.3 283.8,222.0 283.8,218.4 282.1,212.2 280.7,213.7 280.6,213.5 277.9,208.2 270.8,211.7 263.7,214.4 256.6,217.1 251.2,213.5 248.6,217.1 247.7,222.4 240.5,225.1 235.2,226.0 238.8,227.7 245.9,234.9 248.6,237.5 253.0,235.8 260.1,232.2Z"/><path d="M297.5,219.7 298.1,220.6 297.5,219.7 292.2,220.6 283.3,224.2 276.2,227.7 269.0,230.4 272.6,231.3 276.2,234.9 275.3,238.4 273.9,240.2 274.5,243.5 272.7,247.1 275.4,250.6 276.3,255.1 280.8,253.4 283.3,250.9 290.4,246.4 297.5,243.8 304.7,242.0 304.7,241.5 304.3,241.6 303.4,232.7 299.9,225.5 298.6,221.3 298.6,221.3 298.1,219.8Z"/><path d="M299.9,225.5 303.4,232.7 304.3,241.6 310.5,240.7 315.9,238.0 321.2,237.1 323.3,237.6 329.7,232.8 331.8,232.8 331.9,232.7 330.0,229.9 331.8,225.5 331.9,225.4 331.9,224.7 326.6,222.0 321.2,218.4 312.3,214.0 303.4,217.5 298.1,219.8Z"/><path d="M346.6,181.9 346.2,184.6 346.3,185.2ZM320.3,203.3 315.9,210.4 312.3,214.0 321.2,218.4 326.6,222.0 331.9,224.7 333.7,221.1 335.5,218.4 337.3,214.0 339.3,213.0 340.7,211.2 343.3,210.1 346.2,207.7 347.5,207.4 347.8,206.8 351.4,205.9 356.7,202.3 359.8,201.3 361.5,200.2 358.5,198.8 354.9,195.2 347.8,191.6 346.0,188.1 346.3,185.2 346.2,184.6 346.6,181.9 346.9,179.2 347.0,178.9 339.0,177.5 331.9,177.1 324.8,182.8 320.3,184.6 318.6,190.8 321.2,197.1Z"/><path d="M471.2,72.5 469.4,75.1 461.4,77.8 458.7,81.4 457.8,93.8 463.2,98.3 468.5,103.6 475.6,97.4 484.5,90.3 491.6,85.8 486.3,83.2 482.7,77.8 478.3,68.9 478.3,65.3Z"/><path d="M478.3,65.3 478.3,68.9 482.7,77.8 486.3,83.2 491.6,85.8 497.0,95.6 502.3,106.3 507.7,113.4 511.2,112.5 516.1,115.0 516.6,110.7 517.1,107.1 516.6,108.1 517.1,107.1 517.2,106.3 519.3,103.0 520.3,102.3 523.7,98.3 518.4,90.3 513.0,79.6 508.6,70.7 513.0,63.6 514.8,62.9 500.6,58.4 488.1,55.2 487.2,56.6 484.5,56.6 482.7,60.0Z"/><path d="M475.6,97.4 468.5,103.6 470.3,109.9 475.6,115.2 477.4,121.4 482.7,122.3 488.1,120.6 495.2,118.8 503.2,117.0 507.7,118.8 509.1,118.5 516.6,117.0 516.6,116.5 516.1,115.0 516.1,115.0 511.2,112.5 507.7,113.4 502.3,106.3 497.0,95.6 491.6,85.8 484.5,90.3Z"/><path d="M514.8,62.9 513.0,63.6 508.6,70.7 513.0,79.6 518.4,90.3 523.7,98.3 526.5,98.0 528.0,97.1 529.3,97.7 531.3,98.7 534.6,100.9 537.2,102.6 532.6,97.4 537.2,102.6 537.8,103.0 540.7,104.9 541.1,105.2 541.1,105.2 541.5,104.5 545.1,98.3 546.9,93.8 548.6,91.2 547.5,92.8 550.4,92.1 546.9,86.7 538.0,79.6 530.8,76.0 525.5,69.8 525.5,69.1Z"/><path d="M523.7,99.8 526.5,98.0 523.7,98.3 520.3,102.3ZM541.1,105.2 537.8,103.0 534.6,100.9 531.3,98.7 528.0,97.1 523.7,99.8 519.3,103.0 517.2,106.3 516.6,110.7 516.1,115.0 516.8,117.2 519.2,118.8 525.5,121.4 532.6,125.9 538.8,128.6 538.4,129.0 538.9,129.1 539.5,127.0 539.6,126.7 539.5,124.8 540.0,121.5 542.0,121.1 545.4,120.4 545.1,120.5 543.8,118.5 542.2,116.1 541.6,113.0 541.4,111.9 541.6,110.7 542.2,107.4ZM516.6,117.0 516.8,117.2 516.6,116.5Z"/><path d="M548.8,130.0 548.8,133.6 554.1,137.1 555.0,138.0 557.0,140.0 563.3,140.0 563.3,138.2 564.4,134.9 564.4,131.6 564.4,131.1 564.4,128.3 565.8,128.3 566.1,127.5 568.3,125.9 567.2,123.7 566.1,121.5 566.6,118.3 566.1,115.5 564.5,114.5 561.7,116.1 558.5,117.2 554.1,117.7 550.9,119.3 545.4,120.4 540.0,121.5 539.5,124.8 539.7,129.5 539.6,126.7 539.5,127.0 538.9,129.1 538.4,129.0 537.2,130.0 544.2,130.0Z"/><path d="M452.5,97.4 448.9,102.7 448.9,108.1 450.7,115.2 457.8,122.3 459.6,127.7 464.9,130.3 470.3,127.7 477.4,121.4 475.6,115.2 470.3,109.9 468.5,103.6 463.2,98.3 457.8,93.8Z"/><path d="M455.2,136.9 467.7,143.2 474.8,141.4 481.9,141.0 489.0,143.2 496.0,144.8 490.0,142.5 491.6,140.1 497.0,133.0 502.3,125.9 507.7,118.8 503.2,117.0 495.2,118.8 488.1,120.6 482.7,122.3 477.4,121.4 470.3,127.7 464.9,130.3 459.6,127.7 456.9,134.8Z"/><path d="M439.0,121.2 433.7,125.6 428.4,130.0 423.2,134.2 433.8,128.9 444.5,132.5 455.2,136.9 456.9,134.8 459.6,127.7 457.8,122.3 450.7,115.2 448.9,108.1 447.0,110.5 443.5,114.9Z"/><path d="M386.2,110.0 385.6,109.6 385.4,110.3ZM372.6,119.6 369.9,124.9 369.0,130.3 366.4,133.8 361.9,136.5 364.6,140.1 362.8,143.6 361.9,148.1 358.4,153.4 354.8,158.8 354.7,158.9 356.7,156.9 359.4,152.5 362.1,148.0 372.7,154.2 381.6,160.5 389.7,165.8 397.7,164.6 403.0,165.8 404.7,165.0 404.7,165.0 407.1,162.7 410.7,159.2 412.5,153.8 416.0,152.1 419.6,146.7 421.4,139.6 423.0,134.5 412.3,128.3 399.9,120.3 386.9,109.8 376.2,113.4 376.6,113.3 375.4,113.0 376.2,116.9Z"/><path d="M423.0,134.5 421.4,139.6 419.6,146.7 416.0,152.1 416.3,152.8 417.3,152.5 420.8,159.6 424.4,166.7 427.9,173.8 429.6,181.3 432.1,180.5 438.3,178.8 445.4,177.0 446.3,173.4 451.6,164.5 457.0,157.4 461.4,152.9 467.7,143.2 455.2,136.9 444.5,132.5 433.8,128.9 423.2,134.2 423.1,134.4Z"/><path d="M461.4,152.9 464.1,156.5 471.2,160.1 479.2,164.5 481.9,165.4 485.5,168.1 490.8,171.6 492.6,176.1 497.1,177.0 501.5,180.5 501.8,179.9 501.6,179.9 504.2,174.5 507.8,165.6 511.4,154.9 511.5,154.9 510.4,153.8 505.0,149.1 498.9,146.0 496.0,144.8 489.0,143.2 481.9,141.0 474.8,141.4 467.7,143.2Z"/><path d="M451.6,164.5 446.3,173.4 445.4,177.0 452.5,179.7 458.8,182.3 464.1,184.1 469.5,181.4 473.0,178.8 476.6,171.6 479.2,164.5 471.2,160.1 464.1,156.5 461.4,152.9 457.0,157.4Z"/><path d="M412.5,153.8 410.7,159.2 407.1,162.7 404.7,165.0 408.4,163.2 403.0,165.8 397.7,164.6 389.7,165.8 388.8,174.7 390.5,176.5 395.9,177.4 397.7,181.0 401.2,183.6 404.8,188.1 406.6,192.5 408.4,197.0 411.0,201.4 413.7,200.6 417.3,197.0 419.0,193.4 424.4,189.9 427.1,187.2 431.5,184.5 429.4,181.4 429.6,181.3 427.9,173.8 424.4,166.7 420.8,159.6 417.3,152.5 416.3,152.8 416.0,152.1Z"/><path d="M429.6,181.3 429.4,181.4 431.5,184.5 427.1,187.2 424.4,189.9 419.0,193.4 417.3,197.0 413.7,200.6 411.0,201.4 417.3,201.4 420.6,204.2 420.6,204.2 422.6,205.9 429.7,211.2 435.1,215.7 436.8,219.2 435.7,220.9 436.0,220.8 443.2,221.6 448.5,219.9 452.9,212.7 457.4,205.6 461.0,198.5 463.6,191.4 464.1,184.1 458.8,182.3 452.5,179.7 445.4,177.0 438.3,178.8 432.1,180.5 429.6,181.3Z"/><path d="M473.0,178.8 469.5,181.4 473.0,182.3 473.4,183.1 477.0,184.2 478.1,187.6 478.4,187.7 485.5,191.2 489.0,188.6 490.8,186.8 491.2,187.0 491.2,186.9 493.0,186.4 494.2,188.5 496.2,189.5 499.7,191.2 501.7,192.5 503.7,193.2 509.0,194.9 510.7,196.2 512.6,197.6 514.4,191.4 514.4,185.1 516.0,184.8 513.2,183.4 504.2,179.9 501.8,179.9 501.5,180.5 497.1,177.0 492.6,176.1 490.8,171.6 485.5,168.1 481.9,165.4 479.2,164.5 476.6,171.6Z"/><path d="M494.2,188.5 493.0,186.4 491.2,186.9 491.2,187.0 490.8,186.8 489.0,188.6 485.5,191.2 478.4,187.7 478.1,187.6 478.7,189.4 478.8,189.6 477.0,196.7 475.2,203.8 474.3,210.1 477.0,211.0 480.5,208.3 484.1,207.4 489.5,206.5 494.8,206.5 498.4,210.1 501.0,211.8 502.8,211.0 505.5,207.4 509.0,202.9 512.6,197.6 509.0,194.9 503.7,193.2 498.4,191.4 501.7,192.5 499.7,191.2 496.2,189.5Z"/><path d="M469.5,181.4 464.1,184.1 463.6,191.4 461.0,198.5 457.4,205.6 452.9,212.7 448.5,219.9 455.6,221.6 465.4,223.4 465.4,216.3 467.2,211.8 474.3,210.1 475.2,203.8 477.0,196.7 478.8,189.6 477.0,184.2 471.6,182.5 473.4,183.1 473.0,182.3Z"/><path d="M504.2,174.5 501.6,179.9 504.2,179.9 513.2,183.4 516.0,184.8 519.7,184.2 526.8,186.0 531.0,188.1 534.5,188.8 539.9,192.3 546.3,198.8 547.6,199.2 549.6,199.9 549.9,199.7 549.9,198.6 554.3,196.4 556.4,194.3 555.5,192.7 554.6,191.1 550.2,187.8 545.9,185.7 542.6,183.5 540.4,180.2 539.3,177.0 535.0,175.9 535.0,170.8 532.7,167.4 527.4,163.8 520.3,160.3 511.4,154.9 507.8,165.6Z"/><path d="M359.4,152.5 356.7,156.9 352.3,161.4 350.5,164.9 351.4,168.5 349.6,170.3 347.8,173.8 346.9,179.2 346.0,188.1 347.8,191.6 354.9,195.2 358.5,198.8 362.1,200.5 365.6,195.2 368.3,193.4 372.7,190.8 376.3,184.5 379.9,177.4 383.4,176.5 388.8,174.7 389.7,165.8 381.6,160.5 372.7,154.2 362.1,148.0Z"/><path d="M379.9,177.4 376.3,184.5 372.7,190.8 368.3,193.4 372.7,195.2 375.4,200.5 379.9,204.1 383.4,205.9 385.2,208.6 388.8,211.2 394.1,214.8 397.7,213.0 401.2,209.5 406.6,205.0 411.0,201.4 408.4,197.0 406.6,192.5 404.8,188.1 401.2,183.6 397.7,181.0 395.9,177.4 390.5,176.5 388.8,174.7 383.4,176.5Z"/><path d="M406.6,205.0 401.2,209.5 401.2,214.8 404.8,223.7 408.4,229.9 410.6,229.2 411.3,229.9 429.1,229.9 428.9,228.8 428.9,223.4 435.7,220.9 436.8,219.2 435.1,215.7 429.7,211.2 422.6,205.9 417.3,201.4 411.0,201.4Z"/><path d="M383.8,215.0 378.5,225.7 373.2,236.4 366.9,247.1 373.2,241.7 376.7,240.8 382.1,243.5 385.6,241.7 387.4,247.1 391.0,247.9 394.5,250.6 403.4,251.5 409.7,253.3 411.4,248.8 414.1,241.7 415.9,234.6 410.6,229.2 408.4,229.9 404.8,223.7 401.2,214.8 401.2,209.5 397.7,213.0 394.1,214.8 388.8,211.2 385.2,208.6Z"/><path d="M375.4,200.5 372.7,195.2 368.3,193.4 365.6,195.2 362.0,200.6 356.7,202.3 351.4,205.9 347.8,206.8 347.5,207.4 346.2,207.7 343.3,210.1 346.9,208.6 340.7,211.2 339.3,213.0 337.3,214.0 335.5,218.4 333.7,221.1 331.9,224.7 331.9,225.4 331.8,225.5 330.0,229.9 331.9,232.7 331.8,232.8 336.8,232.8 344.0,236.4 347.5,241.7 352.9,248.8 360.9,247.1 360.9,250.3 362.5,250.6 364.2,253.3 366.9,247.1 373.2,236.4 378.5,225.7 383.8,215.0 385.2,208.6 383.4,205.9 379.9,204.1ZM361.5,200.2 359.8,201.3 362.0,200.6 362.1,200.5Z"/><path d="M433.2,236.9 435.2,238.0 439.6,239.5 440.3,240.0 442.6,240.8 443.9,242.3 443.9,242.3 447.9,247.1 447.9,247.3 450.4,246.1 448.5,246.6 450.4,246.1 452.1,245.3 455.2,244.9 455.6,244.8 456.0,244.8 459.2,244.4 464.4,243.1 466.3,242.6 466.3,241.2 466.3,232.8 465.4,225.7 466.0,225.8 465.4,223.4 455.6,221.6 448.5,219.9 443.2,221.6 436.0,220.8 428.9,223.4 428.9,228.8 429.8,234.1Z"/><path d="M466.0,225.8 473.4,227.5 482.3,229.2 491.2,231.9 497.3,233.7 500.1,232.3 507.3,230.5 511.7,229.5 512.1,229.2 512.4,229.3 514.4,228.8 510.8,227.0 507.3,225.2 501.9,223.4 498.4,219.9 496.6,216.3 501.0,211.8 498.4,210.1 494.8,206.5 489.5,206.5 484.1,207.4 480.5,208.3 477.0,211.0 474.3,210.1 467.2,211.8 465.4,216.3 465.4,223.4Z"/><path d="M466.3,232.8 466.3,242.6 469.9,247.1 477.0,250.6 483.2,252.4 485.9,253.3 493.0,255.1 493.4,248.3 493.4,239.9 494.8,239.1 500.1,234.6 491.2,231.9 482.3,229.2 473.4,227.5 465.4,225.7Z"/><path d="M515.7,230.1 514.4,228.8 512.4,229.3ZM526.3,231.9 525.1,232.3 519.7,234.1 515.7,230.1 512.1,229.2 511.7,229.5 507.3,230.5 500.1,232.3 497.3,233.7 500.1,234.6 494.8,239.1 501.4,235.5 493.4,239.9 493.4,248.3 493.0,255.1 497.8,255.1 498.4,255.1 503.7,256.0 509.0,259.5 513.5,264.0 513.5,264.6 513.8,264.9 517.4,264.9 524.5,258.6 535.2,253.3 535.2,250.0 534.8,250.0 535.2,248.1 535.2,241.7 535.6,240.9 535.4,239.3 537.2,234.6 535.4,229.8 534.0,230.5 532.6,230.5 532.3,230.7 528.5,231.6 527.4,231.9Z"/><path d="M435.5,238.2 440.3,240.0 439.6,239.5 435.2,238.0ZM415.9,234.6 414.1,241.7 411.4,248.8 409.7,253.3 415.9,256.0 421.2,257.7 423.0,255.1 423.9,261.3 426.6,264.9 428.4,270.2 429.2,277.3 430.1,282.7 431.0,286.2 433.7,282.7 437.3,277.3 440.8,272.0 444.4,265.8 445.1,263.6 445.8,257.7 446.7,247.9 447.9,247.3 447.9,247.1 442.6,240.8 435.5,238.2 433.2,236.9 429.8,234.1 429.1,229.9 411.3,229.9Z"/><path d="M444.4,265.8 446.5,266.3 451.5,267.5 458.1,268.3 455.6,267.5 458.1,268.3 458.6,268.4 459.2,268.7 461.0,269.3 466.3,272.0 473.4,273.8 474.1,273.9 480.9,274.7 480.9,275.2 482.3,275.5 483.2,264.9 484.1,257.7 485.9,253.3 483.2,252.4 477.0,250.6 469.9,247.1 466.3,242.6 459.2,244.4 452.1,245.3 446.7,247.9 445.8,257.7 445.1,263.6Z"/><path d="M497.0,133.0 491.6,140.1 490.0,142.5 498.9,146.0 505.0,149.1 510.4,153.8 511.5,154.9 511.9,154.5 520.3,147.8 527.4,140.7 534.5,133.6 537.2,130.0 538.8,128.6 532.6,125.9 525.5,121.4 519.2,118.8 516.6,117.0 507.7,118.8 502.3,125.9Z"/><path d="M605.5,152.4 603.8,152.9 601.6,153.5 599.5,155.7 597.3,156.8 599.5,157.9 602.7,160.1 604.9,163.4 605.6,166.8 606.0,168.8 603.8,171.0 602.1,171.6 601.3,172.6 606.7,171.5 612.2,171.5 617.6,172.6 620.9,173.7 623.0,174.8 628.5,172.6 630.7,171.5 631.7,168.3 629.6,165.0 626.3,162.8 622.0,160.7 617.6,158.5 613.3,156.3 608.9,154.1 606.7,153.0 607.1,151.3Z"/><path d="M550.8,211.0 549.6,215.9 548.4,218.3 550.0,219.9 548.6,222.7 550.8,223.3 552.2,223.6 554.8,223.9 563.7,225.7 569.0,225.7 569.5,228.2 571.1,225.0 572.5,225.0 572.2,224.7 570.0,224.7 570.0,212.6 566.8,211.6 563.2,209.7 557.0,208.5 553.3,207.3Z"/><path d="M680.6,159.3 677.5,160.8 674.4,160.3 672.3,164.4 675.4,165.0 677.5,166.5 676.4,168.6 678.0,170.1 675.4,171.6 674.4,173.7 672.3,173.2 670.3,174.7 667.2,175.7 666.2,177.8 668.2,178.8 667.2,180.9 665.1,184.0 664.1,186.0 662.0,188.1 660.0,189.1 658.8,194.4 657.6,199.2 659.7,200.2 665.0,200.8 668.1,203.4 671.2,205.0 674.4,203.4 678.6,201.3 682.8,198.1 683.8,195.0 684.6,190.0 686.2,185.0 688.8,180.9 690.8,177.3 692.9,173.7 695.5,170.1 698.0,167.0 700.1,163.4 700.6,160.3 701.1,157.2 702.6,154.7 702.1,154.2 681.1,155.7Z"/><path d="M701.6,165.5 702.1,167.5 704.2,167.0 706.2,163.4 708.3,159.3 711.4,155.2 714.5,152.1 710.3,154.2 706.2,158.3 703.2,162.4Z"/><path d="M655.0,203.4 654.5,206.5 653.4,210.7 652.9,213.9 651.9,217.0 650.3,221.2 649.8,225.4 649.2,229.6 649.8,233.8 650.8,236.9 652.4,240.1 653.4,242.7 654.5,241.1 656.1,236.9 657.6,232.7 659.2,228.5 660.8,224.3 661.8,220.1 662.9,216.0 665.0,211.8 666.5,208.6 667.6,205.5 668.1,203.4 665.0,200.8 659.7,200.2 655.5,201.3Z"/><path d="M519.3,267.7 521.3,268.0 526.9,268.0 529.9,267.5 529.0,273.8 528.1,282.7 527.0,285.4 526.7,286.5 580.7,255.4 571.1,254.6 570.6,250.0 544.7,250.0 550.8,246.7 555.8,244.2 556.1,243.6 535.6,253.1 535.4,253.2 535.2,253.3 535.2,253.3 524.5,258.6 517.4,264.9 513.8,265.8Z"/><path d="M513.5,264.6 513.5,264.0 509.0,259.5 503.7,256.0 498.4,255.1 493.0,255.1 485.9,253.3 484.1,257.7 483.2,264.9 482.3,275.5 482.3,286.2 481.4,299.1 505.5,299.1 505.8,299.1 508.5,293.4 508.7,292.9 511.3,287.8 512.2,284.2 512.9,273.8 513.5,268.5 513.8,265.8 517.4,264.9 513.8,264.9Z"/><path d="M526.9,268.0 521.3,268.0 519.3,267.7 513.8,265.8 512.9,273.8 512.2,284.2 511.3,287.8 508.5,293.4 505.8,299.1 537.8,299.1 537.0,291.7 535.3,289.4 534.8,288.7 526.7,286.5 527.0,285.4 528.1,282.7 529.0,273.8 529.9,267.5 524.5,268.4Z"/><path d="M534.8,288.7 537.0,291.7 537.8,299.4 574.8,299.4 575.6,290.2 576.3,284.3 579.3,276.9 582.2,269.4 580.7,255.4 526.7,286.5Z"/><path d="M582.2,269.4 579.3,276.9 576.3,284.3 575.6,290.2 585.2,285.7 594.1,278.3 603.0,269.4 610.4,262.0 608.9,259.1 603.0,253.1 600.0,248.7 597.0,244.3 595.6,248.7 594.1,249.4 594.0,250.0 592.7,250.0 580.7,255.4Z"/><path d="M574.8,299.4 610.4,299.4 611.9,284.3 614.8,273.9 617.8,265.0 614.8,265.0 610.4,262.0 603.0,269.4 594.1,278.3 585.2,285.7 575.6,290.2Z"/><path d="M632.7,273.8 635.4,278.2 639.9,280.9 643.4,285.3 641.6,287.1 641.6,293.4 640.8,299.6 652.3,299.6 652.3,286.2 653.2,277.3 653.2,270.2 654.1,275.5 655.9,282.7 658.6,291.6 660.9,299.6 662.7,299.6 661.2,293.4 659.5,286.2 656.8,277.3 654.1,268.4 652.3,264.9 652.7,267.1 651.4,264.0 648.8,261.7 643.4,263.1 638.1,262.2 634.5,264.9 633.6,268.4Z"/><path d="M30.0,294.5 53.5,295.9 63.4,296.3 72.3,295.5 77.2,290.0 80.7,285.0 84.2,278.7 87.8,273.6 84.1,270.2 82.0,265.9 81.6,265.3 81.6,265.2 77.2,267.2 67.3,270.2 61.0,275.1 59.8,281.0 52.5,281.5 41.6,285.0 35.7,288.4 15.9,293.3Z"/><path d="M98.5,268.0 105.6,266.2 116.3,266.2 121.6,267.1 128.8,264.5 128.8,259.1 123.4,257.3 114.5,252.0 111.0,244.9 109.2,236.0 102.1,239.5 94.9,243.1 94.0,248.4 89.6,252.0 83.4,254.7 81.6,257.3 80.7,263.6 80.4,265.7 81.6,265.2 81.6,265.3 84.2,269.8 82.0,265.9 84.1,270.2 87.8,273.6 93.2,271.6Z"/><path d="M111.0,244.9 114.5,252.0 123.4,257.3 128.8,259.1 128.8,264.5 134.1,260.9 137.7,253.8 143.9,250.2 143.0,248.4 141.2,243.1 137.7,237.7 134.1,230.6 130.5,225.3 128.8,227.9 121.6,229.7 116.3,233.3 109.2,236.0Z"/><path d="M137.7,237.7 141.2,243.1 143.0,248.4 143.9,250.2 148.4,249.3 153.7,248.4 157.3,243.1 162.6,241.3 168.8,237.7 173.3,235.1 174.2,233.3 176.8,232.4 176.2,232.2 175.1,230.6 173.3,227.9 170.6,227.1 167.9,225.3 164.4,221.7 160.8,218.2 159.0,211.9 156.4,208.4 159.0,203.9 157.3,203.0 151.9,208.4 144.8,214.6 137.7,219.9 130.5,225.3 134.1,230.6Z"/><path d="M147.4,269.5 152.7,267.7 157.1,266.7 164.0,263.9 167.0,262.4 168.8,261.7 173.3,259.1 171.5,255.5 167.9,250.2 162.6,241.3 157.3,243.1 153.7,248.4 148.4,249.3 143.9,250.2 137.7,253.8 134.1,260.9 128.8,264.5 121.6,267.1 123.4,273.1 126.9,282.0 133.2,280.2 140.3,278.4 145.6,274.9 147.4,269.6Z"/><path d="M80.7,285.0 77.2,290.0 72.3,295.5 128.7,295.0 126.9,282.0 123.4,273.1 121.6,267.1 116.3,266.2 105.6,266.2 98.5,268.0 93.2,271.6 87.8,273.6 84.2,278.7ZM128.7,294.8 128.7,294.8 126.9,282.0Z"/><path d="M164.0,263.9 157.1,266.7 159.9,266.0ZM163.4,293.6 183.0,293.6 185.8,293.6 186.6,291.8 183.0,283.8 179.5,276.6 175.9,269.5 170.5,264.2 167.0,262.4 159.9,266.0 152.7,267.7 147.4,269.5 145.6,274.9 140.3,278.4 133.2,280.2 126.9,282.0 128.7,294.8 145.6,294.5Z"/><path d="M198.7,254.6 198.1,254.9 197.8,255.3 196.5,255.5 196.4,255.5 194.1,256.7 192.9,257.3 189.0,256.6 183.6,258.0 179.1,258.0 179.1,257.4 173.3,259.1 168.8,261.7 174.1,259.7 167.0,262.4 170.5,264.2 175.9,269.5 179.5,276.6 183.0,283.8 186.6,291.8 191.9,286.4 195.5,283.8 202.6,282.0 209.7,280.2 216.8,278.4 215.1,274.9 213.8,274.9 212.2,269.1 211.5,267.7 208.3,261.5 203.2,257.1 202.7,256.5 202.7,256.5 200.6,253.9Z"/><path d="M183.6,258.0 189.0,256.6 192.9,257.3 196.4,255.5 196.5,255.5 197.8,255.3 198.1,254.9 200.6,253.9 199.6,252.7 201.4,250.9 210.3,246.4 213.8,243.8 212.1,240.2 213.8,234.9 217.4,231.3 210.3,226.0 206.7,221.5 199.9,228.8 196.4,230.6 194.6,231.5 194.2,231.7 187.1,234.0 183.5,234.0 180.4,233.3 176.8,232.4 174.2,233.3 173.3,235.1 168.8,237.7 162.6,241.3 167.9,250.2 171.5,255.5 173.3,259.1 179.1,257.4 179.1,258.0Z"/><path d="M213.8,234.9 212.1,240.2 213.8,243.8 210.3,246.4 201.4,250.9 199.6,252.7 203.2,257.1 206.7,255.3 212.1,252.7 219.2,251.2 226.3,250.9 233.4,250.0 238.8,249.1 244.1,247.3 243.2,243.8 244.2,243.0 244.1,242.9 244.2,242.8 244.2,242.6 244.4,242.5 248.6,237.5 245.9,234.9 238.8,227.7 235.2,226.0 224.5,228.6 217.4,231.3Z"/><path d="M213.8,274.9 229.1,274.9 229.1,273.8 233.1,273.8 233.6,273.8 240.7,272.0 247.8,270.2 253.2,268.4 258.0,266.1 258.3,265.9 257.7,264.8 254.9,261.3 249.6,254.2 246.0,248.8 245.4,247.6 244.1,247.3 238.8,249.1 233.4,250.0 226.3,250.9 219.2,251.2 212.1,252.7 206.7,255.3 203.2,257.1 208.3,261.5 211.5,267.7 212.2,269.1 212.1,268.7Z"/><path d="M244.1,247.3 245.4,247.6 244.2,245.3 246.0,248.8 249.6,254.2 254.9,261.3 257.7,264.8 258.3,265.9 258.5,265.8 265.6,264.0 270.6,261.5 276.3,255.1 275.4,250.6 272.7,247.1 274.5,243.5 273.9,240.2 275.3,238.4 276.2,234.9 272.6,231.3 269.0,230.4 260.1,232.2 253.0,235.8 248.6,237.5 244.4,242.5 244.2,242.6 244.2,242.8 244.1,242.9 244.2,243.0 243.2,243.8Z"/><path d="M315.5,239.9 322.6,238.2 323.3,237.6 321.2,237.1 315.9,238.0 310.5,240.7 304.7,241.5 304.7,242.0 297.5,243.8 290.4,246.4 283.3,250.9 280.8,253.4 283.4,252.4 276.3,255.1 270.6,261.5 271.0,261.3 272.7,266.6 276.3,270.2 279.9,275.5 283.4,280.9 285.2,277.3 290.5,272.0 295.9,268.4 301.2,266.6 304.8,263.1 308.4,257.7 310.1,250.6 308.4,244.4Z"/><path d="M235.0,275.2 236.4,274.9 240.9,274.0 240.9,283.3 242.5,288.0 244.2,293.4 247.8,296.9 250.5,299.6 269.2,299.6 267.4,293.4 268.3,289.8 272.7,288.9 278.1,287.1 281.6,284.5 283.4,280.9 279.9,275.5 276.3,270.2 272.7,266.6 271.0,261.3 265.6,264.0 258.5,265.8 253.2,268.4 247.8,270.2 240.7,272.0 233.6,273.8Z"/><path d="M215.1,274.9 216.8,278.4 209.7,280.2 202.6,282.0 195.5,283.8 191.9,286.4 186.6,291.8 184.8,295.9 209.7,297.7 229.1,297.7 229.1,299.6 250.5,299.6 247.8,296.9 244.2,293.4 242.5,288.0 240.9,283.3 240.9,274.0 236.4,274.9 235.0,275.2 233.6,273.8 229.1,273.8 229.1,274.9Z"/><path d="M281.6,284.5 278.1,287.1 272.7,288.9 268.3,289.8 267.4,293.4 269.2,299.6 315.5,299.6 314.6,286.2 315.5,279.1 313.7,273.8 311.9,271.1 306.6,269.3 301.2,266.6 295.9,268.4 290.5,272.0 285.2,277.3 283.4,280.9Z"/><path d="M310.1,250.6 308.4,257.7 304.8,263.1 301.2,266.6 306.6,269.3 311.9,271.1 313.7,273.8 315.5,273.8 322.6,272.0 329.7,272.9 336.8,273.8 344.0,273.8 347.5,272.0 349.1,268.8 349.1,250.6 352.8,249.1 352.9,248.8 347.5,241.7 344.0,236.4 336.8,232.8 329.7,232.8 322.6,238.2 315.5,239.9 308.4,244.4Z"/><path d="M315.5,279.1 314.6,286.2 315.5,299.6 342.2,299.6 344.0,291.6 345.8,282.7 347.5,272.0 344.0,273.8 336.8,273.8 329.7,272.9 322.6,272.0 315.5,273.8 313.7,273.8Z"/><path d="M391.0,272.0 388.3,286.2 384.7,299.1 424.8,299.1 426.6,293.4 428.4,288.0 431.0,286.2 430.1,282.7 429.2,277.3 428.4,270.2 426.6,264.9 423.9,261.3 423.0,255.1 421.2,257.7 415.9,256.0 409.7,253.3 403.4,251.5 394.5,250.6 392.7,261.3Z"/><path d="M474.1,273.9 473.4,273.8 466.3,272.0 461.0,269.3 459.2,268.7 465.8,272.0 458.6,268.4 451.5,267.5 444.4,265.8 440.8,272.0 437.3,277.3 433.7,282.7 431.0,286.2 428.4,288.0 426.6,293.4 424.8,299.1 480.9,299.1 481.4,299.1 482.3,286.2 482.3,275.5 480.9,275.2 480.9,274.7 472.9,273.8Z"/><path d="M345.8,282.7 344.0,291.6 342.2,299.6 342.3,299.6 342.2,300.1 349.1,300.1 360.9,300.1 363.4,300.1 363.4,299.1 384.7,299.1 388.3,286.2 391.0,272.0 392.7,261.3 394.5,250.6 391.0,247.9 387.4,247.1 385.6,241.7 382.1,243.5 376.7,240.8 373.2,241.7 366.9,247.1 364.2,253.3 362.5,250.6 360.9,250.3 360.9,247.1 352.9,248.8 352.8,249.1 349.1,250.6 349.1,268.8 347.5,272.0Z"/><path d="M531.0,188.1 526.8,186.0 519.7,184.2 514.4,185.1 514.4,191.4 512.6,197.6 516.2,200.3 520.0,201.7 523.3,202.9 523.6,203.2 524.9,203.6 525.3,204.5 526.8,205.6 530.4,209.2 535.8,212.7 539.3,216.3 541.8,216.3 543.4,215.9 545.3,217.8 545.6,218.1 548.2,218.1 548.4,218.3 549.6,215.9 550.8,211.0 553.3,207.3 552.1,203.6 551.3,202.4 549.9,201.0 549.9,200.3 549.6,199.9 543.1,197.7 546.3,198.8 539.9,192.3 534.5,188.8Z"/><path d="M498.4,219.9 501.9,223.4 507.3,225.2 510.8,227.0 514.4,228.8 519.7,234.1 525.1,232.3 526.3,231.9 527.4,231.9 532.3,230.7 532.6,230.5 534.0,230.5 535.4,229.8 535.2,229.2 537.5,227.7 537.3,227.0 538.5,224.5 542.2,222.7 546.5,222.1 548.6,222.7 550.0,219.9 548.2,218.1 545.6,218.1 543.4,215.9 541.8,216.3 539.3,216.3 535.8,212.7 530.4,209.2 526.8,205.6 525.3,204.5 524.9,203.6 523.6,203.2 523.3,202.9 516.2,200.3 512.6,197.6 509.0,202.9 505.5,207.4 502.8,211.0 501.0,211.8 496.6,216.3Z"/><path d="M537.2,234.6 535.4,239.3 535.6,240.9 535.2,241.7 535.2,248.1 534.8,250.0 535.2,250.0 535.2,253.3 535.4,253.2 535.6,253.1 556.1,243.6 556.6,242.6 556.6,242.6 557.0,241.8 558.3,240.1 559.3,238.3 560.1,237.6 560.7,236.8 563.0,235.1 564.4,233.9 568.9,229.4 569.5,228.2 569.0,225.7 563.7,225.7 554.8,223.9 552.2,223.6 550.8,223.3 546.5,222.1 542.2,222.7 538.5,224.5 537.3,227.0 537.5,227.7 535.2,229.2Z"/><path d="M559.3,238.3 558.3,240.1 557.0,241.8 555.8,244.2 550.8,246.7 544.7,250.0 570.6,250.0 571.1,254.6 580.7,255.4 592.7,250.0 594.0,250.0 594.1,249.4 595.6,248.7 597.0,244.3 595.2,241.7 595.6,242.8 595.2,241.6 595.2,236.8 594.1,234.6 591.9,235.7 589.7,234.6 589.4,234.4 589.0,234.4 586.6,234.4 581.7,232.5 579.9,231.3 578.8,231.3 576.6,229.1 574.4,226.9 572.5,225.0 571.1,225.0 568.9,229.4 564.4,233.9 563.0,235.1 560.7,236.8 560.1,237.6Z"/><path d="M565.8,128.3 564.4,128.3 564.4,131.6 564.4,134.9 563.3,138.2 563.3,140.0 563.9,142.0 565.5,143.6 568.5,145.6 572.2,146.3 575.3,144.7 578.6,145.3 581.9,145.8 585.2,148.0 586.8,150.2 587.9,152.9 589.6,154.6 592.9,155.7 595.1,156.2 597.3,156.8 599.5,155.7 601.6,153.5 603.8,152.9 605.5,152.4 607.1,151.3 607.7,148.6 606.0,146.9 603.8,145.8 601.6,143.6 600.5,139.2 598.4,140.3 595.1,139.2 592.9,140.3 590.7,141.4 588.5,140.3 587.4,138.7 583.0,138.2 578.6,137.1 574.2,136.0 571.0,134.9 571.0,131.6 568.8,128.3 567.6,126.4 566.1,127.5Z"/><path d="M554.3,196.4 549.9,198.6 549.9,199.7 549.6,199.9 549.9,200.3 549.9,201.0 551.3,202.4 552.1,203.6 553.3,207.3 557.0,208.5 563.2,209.7 566.8,211.6 570.0,212.6 570.0,211.6 576.6,211.6 581.0,210.5 584.2,209.4 585.3,209.4 589.0,208.5 589.9,209.8 591.4,210.3 591.8,209.9 589.6,206.6 585.2,200.1 582.5,199.6 579.7,199.0 573.2,197.9 571.6,197.1 568.8,195.7 567.4,195.0 556.7,195.0 556.4,194.3Z"/><path d="M597.0,179.1 600.2,183.5 604.6,185.7 604.6,187.8 604.6,188.5 606.3,189.6 607.8,190.6 608.4,190.8 612.6,191.8 617.0,193.5 617.2,193.6 621.4,195.1 621.3,195.0 622.0,194.3 624.1,192.2 624.1,187.8 625.2,183.5 624.1,179.1 623.0,174.8 620.9,173.7 617.6,172.6 612.2,171.5 606.7,171.5 601.3,172.6 599.1,173.7 594.8,175.9Z"/><path d="M619.3,225.8 617.1,222.5 615.4,220.0 617.0,220.0 614.8,215.4 612.6,211.0 613.7,206.6 614.8,202.3 612.6,201.7 608.2,200.1 603.8,198.4 599.5,196.8 596.2,196.8 596.2,203.4 596.2,208.8 594.0,213.2 593.9,213.6 594.1,213.8 593.8,214.1 593.8,214.5 594.0,214.7 596.4,218.4 598.5,222.5 601.8,225.8 606.2,229.1 610.5,231.3 613.8,232.4 611.2,229.8 613.8,229.1 618.2,228.0Z"/><path d="M612.6,211.0 614.8,215.4 617.0,220.0 624.6,220.0 625.9,222.5 628.1,223.6 629.2,219.2 629.7,213.8 629.7,213.8 630.1,213.2 631.2,208.8 630.1,204.5 626.3,202.3 621.4,202.8 614.8,202.3 613.7,206.6Z"/><path d="M604.7,233.6 605.1,233.5 608.4,235.7 611.6,237.9 613.8,241.2 616.0,243.4 620.4,245.5 624.8,244.5 627.0,242.3 624.8,240.1 621.5,239.0 618.2,237.9 616.0,234.6 613.8,232.4 610.5,231.3 606.2,229.1 601.8,225.8 598.5,222.5 598.9,223.3 601.4,227.0 603.8,231.9 604.1,232.5Z"/><path d="M593.9,213.6 593.8,214.1 594.1,213.8ZM576.6,229.1 578.8,231.3 579.9,231.3 581.7,232.5 586.6,234.4 589.0,234.4 589.4,234.4 589.7,234.6 591.9,235.7 594.1,234.6 597.2,234.6 601.2,235.5 601.8,234.6 604.7,233.6 603.8,231.9 601.4,227.0 598.9,223.3 596.4,218.4 594.0,214.7 593.8,214.5 592.9,220.0 589.6,220.0 589.6,213.2 591.5,210.4 589.9,209.8 589.0,208.5 585.3,209.4 584.2,209.4 581.0,210.5 576.6,211.6 570.0,211.6 570.0,224.7 572.2,224.7 574.4,226.9Z"/><path d="M624.8,244.5 620.4,245.5 616.0,243.4 613.8,241.2 611.6,237.9 608.4,235.7 605.1,233.5 601.8,234.6 599.6,237.9 601.2,235.5 597.2,234.6 595.2,234.6 601.8,241.2 604.0,243.4 607.3,247.7 610.5,251.0 612.7,254.3 616.0,256.5 619.3,255.4 624.8,254.3 628.1,253.2 629.2,248.8 628.1,245.5 627.0,242.4 627.0,242.3Z"/><path d="M527.4,140.7 520.3,147.8 511.4,154.9 520.3,160.3 527.4,163.8 532.7,167.4 535.0,170.8 535.0,175.9 539.3,177.0 541.5,174.8 544.8,169.3 547.8,166.3 548.0,166.1 551.3,165.5 552.4,163.6 552.9,162.8 552.9,162.7 552.9,160.1 556.7,158.5 561.5,158.5 562.2,158.5 561.9,157.4 561.1,155.2 557.8,152.0 556.2,148.7 556.0,146.1 555.9,145.9 555.7,143.3 556.7,140.0 557.0,140.0 554.1,137.1 548.8,133.6 548.8,130.0 537.2,130.0 534.5,133.6Z"/><path d="M565.5,143.6 563.9,142.0 563.3,140.0 556.7,140.0 555.7,143.3 556.2,148.7 557.8,152.0 561.1,155.2 562.2,158.5 563.3,159.6 565.4,161.7 566.2,165.0 566.5,166.1 567.6,169.3 570.9,171.5 572.4,173.9 578.0,175.3 578.5,175.3 585.0,175.3 585.9,176.0 586.3,176.0 586.6,176.5 587.2,177.0 589.3,177.0 591.5,175.9 595.9,179.1 598.0,181.2 597.3,180.3 594.0,177.1 590.7,173.8 587.4,169.4 585.2,165.0 584.4,165.0 583.9,163.9 581.7,162.8 578.5,159.6 576.3,155.2 575.3,150.2 572.1,146.4 572.2,146.3 568.5,145.6ZM612.6,191.8 608.2,190.8 604.6,188.5 604.6,195.0 595.9,195.0 595.9,195.0 595.3,195.0 596.2,196.8 599.5,196.8 603.8,198.4 608.2,200.1 612.6,201.7 614.8,202.3 621.4,202.8 626.3,202.3 626.9,202.6 626.3,200.1 625.8,197.9 621.4,195.1 617.0,193.5Z"/><path d="M592.9,155.7 589.6,154.6 587.9,152.9 586.8,150.2 585.2,148.0 581.9,145.8 578.6,145.3 575.3,144.7 572.1,146.4 575.3,150.2 576.3,155.2 578.5,159.6 581.7,162.8 583.9,163.9 584.4,165.0 585.2,165.0 587.4,169.4 590.7,173.8 594.0,177.1 597.3,180.3 598.0,181.2 600.2,183.5 597.0,179.1 594.8,175.9 599.1,173.7 601.3,172.6 602.1,171.6 603.8,171.0 606.0,168.8 604.9,163.4 602.7,160.1 599.5,157.9 597.3,156.8 595.1,156.2Z"/><path d="M554.6,166.1 556.7,169.3 560.0,173.7 563.3,178.0 567.6,181.3 572.0,183.5 576.3,186.7 580.7,191.1 582.1,193.7 586.3,197.9 585.2,200.1 589.6,206.6 591.8,209.9 589.6,213.2 589.6,220.0 592.9,220.0 594.0,213.2 596.2,208.8 596.2,196.8 595.3,195.0 595.9,195.0 593.7,190.0 591.5,185.7 589.3,181.3 587.2,177.0 586.6,176.5 586.3,176.0 585.9,176.0 585.0,175.3 578.5,175.3 578.0,175.3 572.4,173.9 570.9,171.5 567.6,169.3 566.5,166.1 565.4,161.7 563.3,159.6 562.2,158.5 556.7,158.5 552.9,160.1 552.9,162.8Z"/><path d="M542.6,183.5 545.9,185.7 550.2,187.8 554.6,191.1 556.7,195.0 567.4,195.0 568.8,195.7 573.2,197.9 579.7,199.0 585.2,200.1 586.3,197.9 582.1,193.7 580.7,191.1 576.3,186.7 572.0,183.5 567.6,181.3 563.3,178.0 560.0,173.7 556.7,169.3 554.6,166.1 552.9,162.8 551.3,165.5 548.0,166.1 544.8,169.3 541.5,174.8 539.3,177.0 540.4,180.2Z"/><path d="M587.2,177.0 589.3,181.3 591.5,185.7 593.7,190.0 595.9,195.0 604.6,195.0 604.6,185.7 600.2,183.5 595.9,179.1 591.5,175.9 589.3,177.0Z"/></g><g fill="#9CF2FA" stroke="#A0602A" stroke-width="1"><polygon points="596.2,195.7 599.5,194.6 603.8,196.2 608.2,197.9 612.6,199.5 617.0,200.6 621.4,201.2 626.3,200.6 626.3,202.3 621.4,202.8 617.0,202.8 612.6,201.7 608.2,200.1 603.8,198.4 599.5,196.8"/><polygon points="593.0,212.7 595.2,214.9 598.5,218.2 602.9,222.5 607.3,226.4 611.6,229.7 616.0,231.3 613.8,232.4 609.5,230.8 605.1,227.5 600.7,223.6 596.3,219.2 593.0,216.0"/><polygon points="585.0,163.9 588.3,167.2 591.5,171.5 594.8,174.8 597.0,178.0 600.2,182.4 603.5,185.7 606.7,188.9 611.1,191.1 615.4,192.7 620.9,193.8 623.0,195.0 617.6,195.0 611.1,193.8 605.7,191.1 601.3,187.8 598.0,183.5 594.8,179.7 591.5,176.4 588.3,172.6 585.0,168.3"/><polygon points="594.8,234.3 599.7,235.3 600.2,238.2 601.7,242.7 604.7,245.2 607.6,248.1 610.6,251.8 613.6,255.0 615.5,258.7 617.5,261.5 619.5,265.0 609.6,265.0 607.6,261.5 604.7,258.0 602.2,254.5 600.2,251.1 597.7,247.6 595.8,244.7 594.8,240.7"/><polygon points="569.1,229.8 575.0,230.8 579.0,231.8 582.9,233.8 586.9,234.8 590.8,235.3 594.8,234.3 594.8,237.7 590.8,237.2 586.9,236.6 582.9,235.6 579.0,234.0 575.0,233.3 569.1,232.3"/><polygon points="698.0,162.4 696.5,165.0 693.9,168.6 691.9,172.1 689.8,175.7 687.7,179.3 685.7,183.4 683.6,187.6 681.6,191.7 680.0,195.8 679.0,200.0 680.6,200.0 681.6,195.8 683.2,191.7 685.2,187.6 687.3,183.4 689.3,179.3 691.4,175.7 693.5,172.1 695.5,168.6 698.1,165.0 699.6,162.4"/><polygon points="542.3,110.3 537.3,111.7 542.3,113.0"/><polygon points="544.5,118.2 538.4,119.9 543.5,121.6"/></g><g fill="none" stroke="#A0602A" stroke-width="1"><polyline points="610,155.2 611.6,157.9 611.1,160.7"/><polyline points="617.6,159 618.2,161.2 619.8,163.4"/><polyline points="613.3,167.2 616.5,168 619.8,169.1 622,170.4"/><polyline points="625.2,163.4 626.8,166.6"/><polyline points="628.5,167.2 627.9,169.3 629.6,171.5"/><polyline points="620.9,175.9 623,177.5 625.2,179.1"/><polyline points="607.8,179.1 609.5,181.8 608.4,183.5 611.1,186.2"/><polyline points="613.3,180.8 614.9,183.5"/><polyline points="619.8,183.5 622,185.7 620.9,187.8"/><polyline points="616.5,186.7 618.7,189.5"/><polyline points="623,187.8 624.1,191.1"/><polyline points="611.6,212.7 614.9,213.8"/><polyline points="611.6,217.1 616,218.2"/><polyline points="612.7,220.3 617.1,221.4"/><polyline points="613.8,223.6 618.2,224.7"/><polyline points="622.6,207.2 623.7,211.6"/><polyline points="624.8,213.8 627,217.1"/><polyline points="616,234.6 618.2,236.8"/><polyline points="619.3,237.9 620.4,240.1"/><polyline points="622.6,240.1 624.8,241.2"/><polyline points="672.3,163.4 674.4,161.4 676.4,160.8"/><polyline points="675.4,165 678.5,167"/><polyline points="674.4,173.7 672.3,172.7 669.8,174.2"/><polyline points="668.2,175.7 666.7,177.3 667.7,178.8"/><polyline points="666.2,180.9 664.6,182.9"/><polyline points="663.1,187 661,188.6"/><polyline points="655.5,205.5 658.7,204.4 660.8,202.3"/><polyline points="653.4,211.8 656.6,210.7"/><polyline points="650.3,220.1 652.4,222.2 651.3,224.3"/><polyline points="649.8,227.5 651.9,228.5"/><polyline points="650.3,231.7 652.4,233.8"/><polyline points="661.8,226.4 659.7,230.6 658.7,234.8"/><polyline points="678.6,209.7 676.5,212.8 674.4,216"/><polyline points="673.3,220.1 671.2,223.3"/><polyline points="669.1,225.4 667.6,228.5 666.5,231.2"/><polyline points="665,233.8 662.9,236.9 660.8,240.1"/><polyline points="428.4,280.9 431.9,285.3 437.3,288 439,290.7 436.4,289.8 432.8,287.1"/><polyline points="700.4,158.3 698.1,159.5 699.4,161.9 697.0,163.0 697.9,165.6 695.2,166.0 695.6,168.4 693.1,168.9 693.6,171.4 691.1,172.1 691.6,174.6 689.4,175.5 689.9,178.0 686.9,178.5 687.9,181.1 685.6,182.0 686.6,184.5 683.1,185.3 684.6,188.5 681.5,189.7 683.3,192.5 680.5,193.8 681.8,196.5 678.7,198.2 678.5,201.0"/><polyline points="701.6,156.2 699.6,158.1 700.0,160.9 697.6,162.5 697.9,165.5 695.4,166.9 695.8,170.0 693.0,171.3 693.1,174.3 690.5,175.7 690.3,178.4 688.1,180.0 688.4,182.9 685.8,184.3 686.2,187.1 683.7,188.7 684.0,192.3 682.0,195.0"/><polyline points="680.6,157.6 677.1,158.1 676.9,161.8 673.9,162.2 673.7,163.7 674.3,167.0 678.1,168.7 674.5,169.6 674.4,173.3 670.9,172.5 669.6,175.3 667.1,177.1 668.1,180.6 664.9,182.1 664.8,185.6 662.3,186.3 662.6,189.0 659.3,189.7 661.0,192.3 658.2,193.7 659.0,196.0"/><polyline points="656.8,203.3 654.3,204.7 655.6,207.3 653.0,208.8 654.4,211.2 651.8,212.7 653.7,215.3 651.1,216.8 652.5,219.3 650.4,220.9 651.7,223.5 649.3,225.5 651.3,227.9 649.0,230.1 651.1,231.9 649.7,234.3 652.5,236.1 652.5,239.0"/><polyline points="666.5,204.1 664.5,206.8 665.1,210.2 662.9,212.8 663.0,216.2 660.5,218.7 661.1,222.2 658.9,224.8 659.2,228.2 656.4,230.6 657.0,234.2 654.7,236.7 654.5,240.0"/><polyline points="678.0,209.5 674.7,210.3 676.2,213.6 672.7,214.4 673.8,217.4 671.1,218.5 671.9,221.4 668.8,222.4 670.7,225.6 667.8,226.6 668.2,229.4 665.7,230.6 666.2,233.5 663.4,234.2 664.2,237.3 661.3,237.9 661.0,240.7 659.0,242.0"/><polyline points="712.5,153.4 709.9,154.6 709.2,157.5 706.2,158.5 706.3,161.3 703.8,162.3 703.6,164.9 701.0,167.5"/></g></svg>
<div class="lg">
 <div class="t title">O Horse! Directory listings per 1000 sq. mi.</div>
 <div class="num" style="left:49px;top:26px">0</div>
 <div class="num" style="left:89px;top:26px">5</div>
 <div class="num" style="left:128px;top:26px">10</div>
 <div class="num" style="left:168px;top:26px">15</div>
 <div class="num" style="left:208px;top:26px">20</div>
 <div class="bar">
  <div class="seg" style="left:0;background:#FCFEFC"></div>
  <div class="seg" style="left:40px;background:#FEF2BE"></div>
  <div class="seg" style="left:80px;background:#FDCB68"></div>
  <div class="seg" style="left:120px;background:#FC9A38"></div>
  <div class="seg" style="left:160px;background:#CC6306"></div>
  <div class="seg" style="left:200px;background:#7A461E"></div>
 </div>
 <div class="num" style="left:49px;top:66px">0</div>
 <div class="num" style="left:89px;top:66px">5</div>
 <div class="num" style="left:128px;top:66px">10</div>
 <div class="num" style="left:168px;top:66px">15</div>
 <div class="num" style="left:208px;top:66px">20</div>
</div>
<div class="foot" style="top:417px">All equestrian data is based on approved O Horse! Directory listings.</div>
<div class="foot" style="top:432px">Map last updated on: April 10, 2026</div>
<div class="dash"></div><div class="dash0"></div>
<div class="foot" style="top:457px">Map - &copy;Map Resources</div>
<div class="foot" style="top:472px">Equestrian Data - &copy; 2026 OHorse.com</div>
<div class="foot" style="top:487px">Square mileage info from the U.S. Census Bureau.</div>
</body></html>
